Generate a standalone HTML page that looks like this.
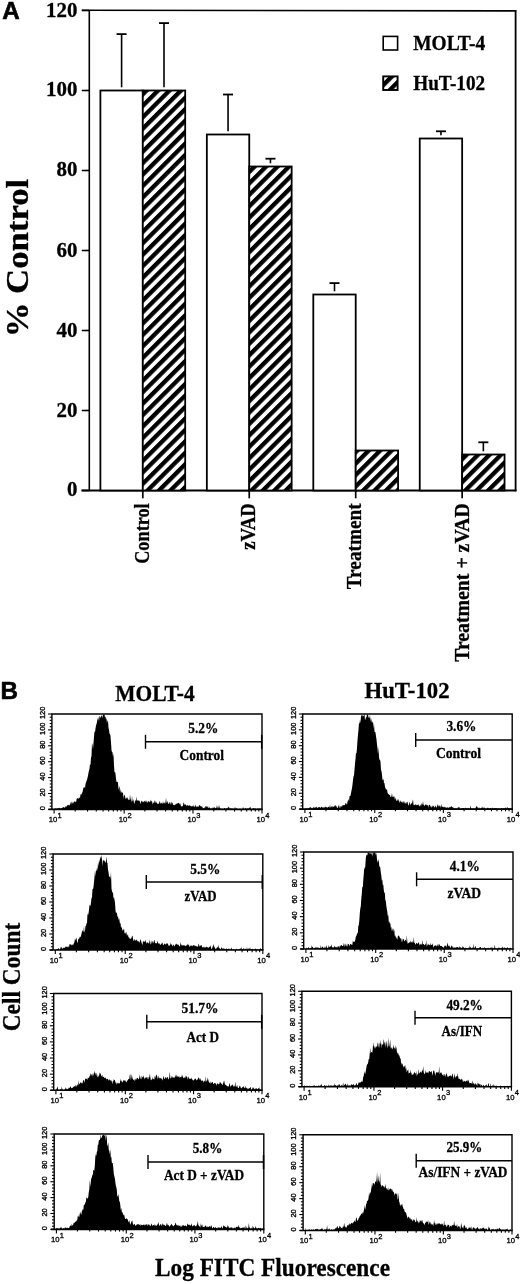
<!DOCTYPE html>
<html><head><meta charset="utf-8"><title>Figure</title>
<style>html,body{margin:0;padding:0;background:#fff;}body{width:520px;height:1284px;overflow:hidden;font-family:"Liberation Serif",serif;}
svg{display:block;filter:grayscale(1);}</style></head>
<body><svg width="520" height="1284" viewBox="0 0 520 1284">
<rect x="0" y="0" width="520" height="1284" fill="#fff"/>
<defs><pattern id="hatch0" patternUnits="userSpaceOnUse" width="8.1" height="8.1" patternTransform="translate(4.95,0) rotate(-45)"><rect x="0" y="0" width="8.1" height="8.1" fill="#fff"/><rect x="0" y="0" width="8.1" height="4.3" fill="#000"/></pattern><pattern id="hatch1" patternUnits="userSpaceOnUse" width="8.1" height="8.1" patternTransform="translate(5.75,0) rotate(-45)"><rect x="0" y="0" width="8.1" height="8.1" fill="#fff"/><rect x="0" y="0" width="8.1" height="4.3" fill="#000"/></pattern><pattern id="hatch2" patternUnits="userSpaceOnUse" width="8.1" height="8.1" patternTransform="translate(2.9,0) rotate(-45)"><rect x="0" y="0" width="8.1" height="8.1" fill="#fff"/><rect x="0" y="0" width="8.1" height="4.3" fill="#000"/></pattern><pattern id="hatch3" patternUnits="userSpaceOnUse" width="8.1" height="8.1" patternTransform="translate(1.9,0) rotate(-45)"><rect x="0" y="0" width="8.1" height="8.1" fill="#fff"/><rect x="0" y="0" width="8.1" height="4.3" fill="#000"/></pattern><pattern id="hatch4" patternUnits="userSpaceOnUse" width="8.1" height="8.1" patternTransform="translate(7.1,0) rotate(-45)"><rect x="0" y="0" width="8.1" height="8.1" fill="#fff"/><rect x="0" y="0" width="8.1" height="4.3" fill="#000"/></pattern></defs>
<line x1="81.8" y1="10.3" x2="516.35" y2="10.9" stroke="#000" stroke-width="1.6"/>
<line x1="89.3" y1="10.3" x2="89.3" y2="490.5" stroke="#000" stroke-width="1.6"/>
<line x1="515.6" y1="10.3" x2="515.6" y2="491.2" stroke="#000" stroke-width="1.8"/>
<line x1="81.5" y1="490.6" x2="516.5" y2="490.6" stroke="#000" stroke-width="2"/>
<line x1="81.8" y1="490.5" x2="89.3" y2="490.5" stroke="#000" stroke-width="1.6"/>
<text x="77.4" y="495.6" font-size="20.5" font-family="'Liberation Serif', serif" font-weight="bold" text-anchor="end" textLength="10.45" lengthAdjust="spacingAndGlyphs" stroke="#000" stroke-width="0.3">0</text>
<line x1="81.8" y1="410.5" x2="89.3" y2="410.5" stroke="#000" stroke-width="1.6"/>
<text x="77.4" y="416.8" font-size="20.5" font-family="'Liberation Serif', serif" font-weight="bold" text-anchor="end" textLength="20.9" lengthAdjust="spacingAndGlyphs" stroke="#000" stroke-width="0.3">20</text>
<line x1="81.8" y1="330.5" x2="89.3" y2="330.5" stroke="#000" stroke-width="1.6"/>
<text x="77.4" y="337.3" font-size="20.5" font-family="'Liberation Serif', serif" font-weight="bold" text-anchor="end" textLength="20.9" lengthAdjust="spacingAndGlyphs" stroke="#000" stroke-width="0.3">40</text>
<line x1="81.8" y1="250.5" x2="89.3" y2="250.5" stroke="#000" stroke-width="1.6"/>
<text x="77.4" y="257" font-size="20.5" font-family="'Liberation Serif', serif" font-weight="bold" text-anchor="end" textLength="20.9" lengthAdjust="spacingAndGlyphs" stroke="#000" stroke-width="0.3">60</text>
<line x1="81.8" y1="170.5" x2="89.3" y2="170.5" stroke="#000" stroke-width="1.6"/>
<text x="77.4" y="175.7" font-size="20.5" font-family="'Liberation Serif', serif" font-weight="bold" text-anchor="end" textLength="20.9" lengthAdjust="spacingAndGlyphs" stroke="#000" stroke-width="0.3">80</text>
<line x1="81.8" y1="90.5" x2="89.3" y2="90.5" stroke="#000" stroke-width="1.6"/>
<text x="77.4" y="96.2" font-size="20.5" font-family="'Liberation Serif', serif" font-weight="bold" text-anchor="end" textLength="31.35" lengthAdjust="spacingAndGlyphs" stroke="#000" stroke-width="0.3">100</text>
<line x1="81.8" y1="10.5" x2="89.3" y2="10.5" stroke="#000" stroke-width="1.6"/>
<text x="77.4" y="16.6" font-size="20.5" font-family="'Liberation Serif', serif" font-weight="bold" text-anchor="end" textLength="31.35" lengthAdjust="spacingAndGlyphs" stroke="#000" stroke-width="0.3">120</text>
<rect x="100.4" y="90.5" width="42.4" height="400" fill="#fff" stroke="#000" stroke-width="1.8"/>
<rect x="142.8" y="90.5" width="42.4" height="400" fill="url(#hatch0)" stroke="#000" stroke-width="1.8"/>
<line x1="121.6" y1="87.3" x2="121.6" y2="34.1" stroke="#000" stroke-width="1.6"/>
<line x1="116.6" y1="34.1" x2="126.6" y2="34.1" stroke="#000" stroke-width="1.8"/>
<line x1="164" y1="87.3" x2="164" y2="23.1" stroke="#000" stroke-width="1.6"/>
<line x1="159" y1="23.1" x2="169" y2="23.1" stroke="#000" stroke-width="1.8"/>
<line x1="142.8" y1="490.5" x2="142.8" y2="498.3" stroke="#000" stroke-width="1.7"/>
<rect x="206.85" y="134.5" width="42.4" height="356" fill="#fff" stroke="#000" stroke-width="1.8"/>
<rect x="249.25" y="166.5" width="42.4" height="324" fill="url(#hatch1)" stroke="#000" stroke-width="1.8"/>
<line x1="228.05" y1="131.3" x2="228.05" y2="94.5" stroke="#000" stroke-width="1.6"/>
<line x1="223.05" y1="94.5" x2="233.05" y2="94.5" stroke="#000" stroke-width="1.8"/>
<line x1="270.45" y1="163.3" x2="270.45" y2="158.7" stroke="#000" stroke-width="1.6"/>
<line x1="265.45" y1="158.7" x2="275.45" y2="158.7" stroke="#000" stroke-width="1.8"/>
<line x1="249.25" y1="490.5" x2="249.25" y2="498.3" stroke="#000" stroke-width="1.7"/>
<rect x="313.3" y="294.5" width="42.4" height="196" fill="#fff" stroke="#000" stroke-width="1.8"/>
<rect x="355.7" y="450.5" width="42.4" height="40" fill="url(#hatch2)" stroke="#000" stroke-width="1.8"/>
<line x1="334.5" y1="291.3" x2="334.5" y2="283.1" stroke="#000" stroke-width="1.6"/>
<line x1="329.5" y1="283.1" x2="339.5" y2="283.1" stroke="#000" stroke-width="1.8"/>
<line x1="355.7" y1="490.5" x2="355.7" y2="498.3" stroke="#000" stroke-width="1.7"/>
<rect x="419.75" y="138.5" width="42.4" height="352" fill="#fff" stroke="#000" stroke-width="1.8"/>
<rect x="462.15" y="454.5" width="42.4" height="36" fill="url(#hatch3)" stroke="#000" stroke-width="1.8"/>
<line x1="440.95" y1="135.3" x2="440.95" y2="131.3" stroke="#000" stroke-width="1.6"/>
<line x1="435.95" y1="131.3" x2="445.95" y2="131.3" stroke="#000" stroke-width="1.8"/>
<line x1="483.35" y1="451.3" x2="483.35" y2="442.3" stroke="#000" stroke-width="1.6"/>
<line x1="478.35" y1="442.3" x2="488.35" y2="442.3" stroke="#000" stroke-width="1.8"/>
<line x1="462.15" y1="490.5" x2="462.15" y2="498.3" stroke="#000" stroke-width="1.7"/>
<rect x="383.2" y="36.4" width="14.4" height="13.6" fill="#fff" stroke="#000" stroke-width="1.6"/>
<rect x="383.2" y="76.4" width="14.4" height="13.6" fill="url(#hatch4)" stroke="#000" stroke-width="1.9"/>
<text x="413.2" y="49.8" font-size="22" font-family="'Liberation Serif', serif" font-weight="bold" text-anchor="start" textLength="72" lengthAdjust="spacingAndGlyphs" stroke="#000" stroke-width="0.3">MOLT-4</text>
<text x="413.2" y="89.6" font-size="22" font-family="'Liberation Serif', serif" font-weight="bold" text-anchor="start" textLength="72" lengthAdjust="spacingAndGlyphs" stroke="#000" stroke-width="0.3">HuT-102</text>
<text x="2.3" y="19" font-size="24.2" font-family="'Liberation Sans', sans-serif" font-weight="bold" text-anchor="start" stroke="#000" stroke-width="0.6">A</text>
<text x="27.7" y="337.3" font-size="31" font-family="'Liberation Serif', serif" font-weight="bold" text-anchor="start" textLength="158.5" lengthAdjust="spacingAndGlyphs" transform="rotate(-90 27.7 337.3)" stroke="#000" stroke-width="0.3">% Control</text>
<text x="148.8" y="503.3" font-size="20.8" font-family="'Liberation Serif', serif" font-weight="bold" text-anchor="end" textLength="60.5" lengthAdjust="spacingAndGlyphs" transform="rotate(-90 148.8 503.3)" stroke="#000" stroke-width="0.3">Control</text>
<text x="255" y="503.3" font-size="20.8" font-family="'Liberation Serif', serif" font-weight="bold" text-anchor="end" textLength="46.5" lengthAdjust="spacingAndGlyphs" transform="rotate(-90 255 503.3)" stroke="#000" stroke-width="0.3">zVAD</text>
<text x="361.3" y="503.3" font-size="20.8" font-family="'Liberation Serif', serif" font-weight="bold" text-anchor="end" textLength="86" lengthAdjust="spacingAndGlyphs" transform="rotate(-90 361.3 503.3)" stroke="#000" stroke-width="0.3">Treatment</text>
<text x="468.7" y="503.3" font-size="20.8" font-family="'Liberation Serif', serif" font-weight="bold" text-anchor="end" textLength="158.5" lengthAdjust="spacingAndGlyphs" transform="rotate(-90 468.7 503.3)" stroke="#000" stroke-width="0.3">Treatment + zVAD</text>
<text x="0.4" y="698.6" font-size="24.2" font-family="'Liberation Sans', sans-serif" font-weight="bold" text-anchor="start" stroke="#000" stroke-width="0.6">B</text>
<text x="115.2" y="700.8" font-size="23" font-family="'Liberation Serif', serif" font-weight="bold" text-anchor="start" textLength="79.5" lengthAdjust="spacingAndGlyphs" stroke="#000" stroke-width="0.3">MOLT-4</text>
<text x="364.5" y="698" font-size="22.6" font-family="'Liberation Serif', serif" font-weight="bold" text-anchor="start" textLength="85" lengthAdjust="spacingAndGlyphs" stroke="#000" stroke-width="0.3">HuT-102</text>
<text x="19.8" y="1031.3" font-size="25.5" font-family="'Liberation Serif', serif" font-weight="bold" text-anchor="start" textLength="108.5" lengthAdjust="spacingAndGlyphs" transform="rotate(-90 19.8 1031.3)" stroke="#000" stroke-width="0.3">Cell Count</text>
<text x="155" y="1275.8" font-size="24.5" font-family="'Liberation Serif', serif" font-weight="bold" text-anchor="start" textLength="235" lengthAdjust="spacingAndGlyphs" stroke="#000" stroke-width="0.3">Log FITC Fluorescence</text>
<path d="M54,809.4L54,809.1L54.5,809.1L55,808.12L55.5,808.54L56,808.67L56.5,808.59L57,808.44L57.5,808.32L58,808.52L58.5,808.12L59,808.57L59.5,807.82L60,808.06L60.5,808.8L61,808.11L61.5,808.43L62,807.86L62.5,807.8L63,807.19L63.5,806.88L64,807.59L64.5,807.53L65,807.66L65.5,806.42L66,806.06L66.5,807.29L67,805.04L67.5,805.86L68,804.57L68.5,805.42L69,804.72L69.5,805.84L70,804.27L70.5,801.73L71,805.1L71.5,802.6L72,801.22L72.5,803.23L73,803.72L73.5,802.44L74,801.48L74.5,801.48L75,801.82L75.5,801.41L76,802.43L76.5,799.69L77,798.11L77.5,798.47L78,798.35L78.5,798.96L79,797.17L79.5,797.78L80,798.01L80.5,794.53L81,793.98L81.5,794.76L82,792.68L82.5,792.42L83,789.41L83.5,787.73L84,786.95L84.5,787.36L85,788.21L85.5,784.09L86,782.39L86.5,780.89L87,779.63L87.5,777.8L88,775.67L88.5,772.63L89,770.62L89.5,768.6L90,764.03L90.5,765.14L91,757.6L91.5,756.33L92,743.07L92.5,744.87L93,749.27L93.5,742.95L94,736.63L94.5,731.2L95,732.22L95.5,728.59L96,725.55L96.5,724.11L97,721.98L97.5,717.85L98,720.57L98.5,716.58L99,721.42L99.5,715.83L100,716.7L100.5,717.95L101,716.24L101.5,716.34L102,714.6L102.5,718.66L103,714.6L103.5,714.6L104,714.6L104.5,714.6L105,717.24L105.5,716.43L106,719.83L106.5,718.07L107,723.47L107.5,720.51L108,720.84L108.5,727.8L109,730.05L109.5,733.81L110,733.97L110.5,736.31L111,742.48L111.5,750.23L112,752L112.5,752.26L113,756.81L113.5,753.59L114,765.53L114.5,772.85L115,771.52L115.5,773.79L116,779.09L116.5,781.63L117,782.25L117.5,781.64L118,782.51L118.5,789.8L119,787.54L119.5,786.07L120,792.61L120.5,788.55L121,793.88L121.5,791.05L122,792.59L122.5,792.77L123,792.57L123.5,798.76L124,795.24L124.5,794.79L125,796.32L125.5,798.46L126,799.06L126.5,797.98L127,797.18L127.5,797.84L128,799.36L128.5,799.71L129,799.71L129.5,800.03L130,794.27L130.5,798.41L131,799.97L131.5,802.46L132,795.43L132.5,800.59L133,801.44L133.5,798.86L134,803.49L134.5,803.62L135,800.82L135.5,799.9L136,801.45L136.5,796.19L137,801.16L137.5,799.77L138,801.08L138.5,799.94L139,801.28L139.5,800.34L140,802.19L140.5,804.19L141,801.34L141.5,800.39L142,802.19L142.5,800.86L143,802.78L143.5,801.31L144,802.36L144.5,800.42L145,801.43L145.5,801.69L146,800.12L146.5,802.53L147,800.5L147.5,802.92L148,801.9L148.5,800.88L149,801.29L149.5,801.92L150,802.32L150.5,799.54L151,801.82L151.5,801.13L152,800.34L152.5,804.72L153,802.86L153.5,802.17L154,803.47L154.5,800.98L155,800.37L155.5,803.27L156,801.09L156.5,802.69L157,803.33L157.5,803.98L158,803.57L158.5,803.86L159,803.79L159.5,801.12L160,802.09L160.5,803.18L161,803.95L161.5,802.64L162,802.73L162.5,804.15L163,800.89L163.5,804.02L164,802.11L164.5,803.1L165,803.8L165.5,802.27L166,797.83L166.5,802.24L167,803.37L167.5,800.8L168,802.51L168.5,803.89L169,804.05L169.5,802.34L170,802.12L170.5,803.49L171,805.11L171.5,801.2L172,803.32L172.5,802.52L173,804.65L173.5,804.78L174,805.36L174.5,805.26L175,804.33L175.5,805.03L176,803.39L176.5,804.16L177,803.23L177.5,803.46L178,803.27L178.5,802.88L179,802.71L179.5,804.58L180,803.01L180.5,804.41L181,806.25L181.5,806.14L182,806.59L182.5,806.34L183,805.61L183.5,802.2L184,802.93L184.5,804.86L185,804.84L185.5,804.21L186,804.86L186.5,806.13L187,804.76L187.5,805.5L188,805.18L188.5,805.99L189,805.26L189.5,805.34L190,805.7L190.5,805.72L191,806.59L191.5,806.34L192,806.05L192.5,805.86L193,807.06L193.5,804.58L194,807.38L194.5,806.44L195,805.99L195.5,804.27L196,807.52L196.5,806.79L197,806.11L197.5,806.52L198,807.12L198.5,806.67L199,805.58L199.5,804.89L200,805.41L200.5,806.25L201,806.23L201.5,806.72L202,806.31L202.5,807.28L203,808.72L203.5,807.84L204,808.64L204.5,806.89L205,808.26L205.5,806.22L206,805.91L206.5,806.57L207,807.54L207.5,805.86L208,807.97L208.5,808.21L209,805.98L209.5,808.29L210,807.44L210.5,809.1L211,808.48L211.5,808.85L212,807.55L212.5,809.1L213,806.61L213.5,808.13L214,807.83L214.5,807.11L215,807.98L215.5,808.19L216,808.29L216.5,807.51L217,804.64L217.5,809.1L218,806.02L218.5,809.1L219,804.5L219.5,807.45L220,807.68L220.5,808.51L221,808.65L221.5,808.77L222,808.74L222.5,808.51L223,808.93L223.5,809.02L224,808.26L224.5,808.03L225,808.34L225.5,808.93L226,808.35L226.5,808.02L227,809.06L227.5,807.84L228,807.8L228.5,806.92L229,806.62L229.5,808.94L230,807.84L230.5,808.19L231,809.05L231.5,808.36L232,808.56L232.5,808.54L233,808.87L233.5,809.1L234,808.1L234.5,809.1L235,806.44L235.5,808.48L236,808.87L236.5,807.73L237,809.1L237.5,808.47L238,809.1L238.5,809.1L239,809.1L239.5,809.09L240,807.98L240.5,809.1L241,809.1L241.5,809.09L242,808.98L242.5,808.87L243,806.93L243.5,807.97L244,809.1L244.5,809.1L245,808.29L245.5,807.8L246,809.02L246.5,809.08L247,807.8L247.5,808.57L248,809.1L248.5,808.06L249,808.57L249.5,807.24L250,807.99L250.5,806.55L251,809.1L251.5,809.1L252,809.1L252.5,808.73L253,807.97L253.5,808.51L254,807.97L254.5,809.1L255,807.97L255.5,808.61L256,809.1L256.5,809.1L257,808.34L257.5,808.46L258,809.1L258.5,808.31L259,809.06L259.5,808.31L260,807.98L260.5,809.1L261,808.58L261,809.4 Z" fill="#000"/>
<path d="M51.9,809.4 L51.9,714 L262,714 L262,809.4" fill="none" stroke="#000" stroke-width="1.4"/>
<line x1="48.5" y1="809.4" x2="262.7" y2="809.4" stroke="#000" stroke-width="1.6"/>
<line x1="48.1" y1="809.4" x2="51.9" y2="809.4" stroke="#000" stroke-width="1.1"/>
<line x1="49.7" y1="806.22" x2="51.9" y2="806.22" stroke="#000" stroke-width="1.1"/>
<line x1="49.7" y1="803.04" x2="51.9" y2="803.04" stroke="#000" stroke-width="1.1"/>
<line x1="49.7" y1="799.86" x2="51.9" y2="799.86" stroke="#000" stroke-width="1.1"/>
<line x1="49.7" y1="796.68" x2="51.9" y2="796.68" stroke="#000" stroke-width="1.1"/>
<line x1="48.1" y1="793.5" x2="51.9" y2="793.5" stroke="#000" stroke-width="1.1"/>
<line x1="49.7" y1="790.32" x2="51.9" y2="790.32" stroke="#000" stroke-width="1.1"/>
<line x1="49.7" y1="787.14" x2="51.9" y2="787.14" stroke="#000" stroke-width="1.1"/>
<line x1="49.7" y1="783.96" x2="51.9" y2="783.96" stroke="#000" stroke-width="1.1"/>
<line x1="49.7" y1="780.78" x2="51.9" y2="780.78" stroke="#000" stroke-width="1.1"/>
<line x1="48.1" y1="777.6" x2="51.9" y2="777.6" stroke="#000" stroke-width="1.1"/>
<line x1="49.7" y1="774.42" x2="51.9" y2="774.42" stroke="#000" stroke-width="1.1"/>
<line x1="49.7" y1="771.24" x2="51.9" y2="771.24" stroke="#000" stroke-width="1.1"/>
<line x1="49.7" y1="768.06" x2="51.9" y2="768.06" stroke="#000" stroke-width="1.1"/>
<line x1="49.7" y1="764.88" x2="51.9" y2="764.88" stroke="#000" stroke-width="1.1"/>
<line x1="48.1" y1="761.7" x2="51.9" y2="761.7" stroke="#000" stroke-width="1.1"/>
<line x1="49.7" y1="758.52" x2="51.9" y2="758.52" stroke="#000" stroke-width="1.1"/>
<line x1="49.7" y1="755.34" x2="51.9" y2="755.34" stroke="#000" stroke-width="1.1"/>
<line x1="49.7" y1="752.16" x2="51.9" y2="752.16" stroke="#000" stroke-width="1.1"/>
<line x1="49.7" y1="748.98" x2="51.9" y2="748.98" stroke="#000" stroke-width="1.1"/>
<line x1="48.1" y1="745.8" x2="51.9" y2="745.8" stroke="#000" stroke-width="1.1"/>
<line x1="49.7" y1="742.62" x2="51.9" y2="742.62" stroke="#000" stroke-width="1.1"/>
<line x1="49.7" y1="739.44" x2="51.9" y2="739.44" stroke="#000" stroke-width="1.1"/>
<line x1="49.7" y1="736.26" x2="51.9" y2="736.26" stroke="#000" stroke-width="1.1"/>
<line x1="49.7" y1="733.08" x2="51.9" y2="733.08" stroke="#000" stroke-width="1.1"/>
<line x1="48.1" y1="729.9" x2="51.9" y2="729.9" stroke="#000" stroke-width="1.1"/>
<line x1="49.7" y1="726.72" x2="51.9" y2="726.72" stroke="#000" stroke-width="1.1"/>
<line x1="49.7" y1="723.54" x2="51.9" y2="723.54" stroke="#000" stroke-width="1.1"/>
<line x1="49.7" y1="720.36" x2="51.9" y2="720.36" stroke="#000" stroke-width="1.1"/>
<line x1="49.7" y1="717.18" x2="51.9" y2="717.18" stroke="#000" stroke-width="1.1"/>
<line x1="48.1" y1="714" x2="51.9" y2="714" stroke="#000" stroke-width="1.1"/>
<text x="44.8" y="808.3" font-size="7.4" font-family="'Liberation Sans', sans-serif" font-weight="normal" text-anchor="middle" transform="rotate(-90 44.8 808.3)" stroke="#000" stroke-width="0.35">0</text>
<text x="44.8" y="792.4" font-size="7.4" font-family="'Liberation Sans', sans-serif" font-weight="normal" text-anchor="middle" transform="rotate(-90 44.8 792.4)" stroke="#000" stroke-width="0.35">20</text>
<text x="44.8" y="776.5" font-size="7.4" font-family="'Liberation Sans', sans-serif" font-weight="normal" text-anchor="middle" transform="rotate(-90 44.8 776.5)" stroke="#000" stroke-width="0.35">40</text>
<text x="44.8" y="760.6" font-size="7.4" font-family="'Liberation Sans', sans-serif" font-weight="normal" text-anchor="middle" transform="rotate(-90 44.8 760.6)" stroke="#000" stroke-width="0.35">60</text>
<text x="44.8" y="744.7" font-size="7.4" font-family="'Liberation Sans', sans-serif" font-weight="normal" text-anchor="middle" transform="rotate(-90 44.8 744.7)" stroke="#000" stroke-width="0.35">80</text>
<text x="44.8" y="728.8" font-size="7.4" font-family="'Liberation Sans', sans-serif" font-weight="normal" text-anchor="middle" transform="rotate(-90 44.8 728.8)" stroke="#000" stroke-width="0.35">100</text>
<text x="44.8" y="712.9" font-size="7.4" font-family="'Liberation Sans', sans-serif" font-weight="normal" text-anchor="middle" transform="rotate(-90 44.8 712.9)" stroke="#000" stroke-width="0.35">120</text>
<line x1="54.1" y1="809.4" x2="54.1" y2="813.4" stroke="#000" stroke-width="1.1"/>
<line x1="75.19" y1="809.4" x2="75.19" y2="811.6" stroke="#000" stroke-width="1.1"/>
<line x1="87.53" y1="809.4" x2="87.53" y2="811.6" stroke="#000" stroke-width="1.1"/>
<line x1="96.28" y1="809.4" x2="96.28" y2="811.6" stroke="#000" stroke-width="1.1"/>
<line x1="103.07" y1="809.4" x2="103.07" y2="811.6" stroke="#000" stroke-width="1.1"/>
<line x1="108.62" y1="809.4" x2="108.62" y2="811.6" stroke="#000" stroke-width="1.1"/>
<line x1="113.31" y1="809.4" x2="113.31" y2="811.6" stroke="#000" stroke-width="1.1"/>
<line x1="117.37" y1="809.4" x2="117.37" y2="811.6" stroke="#000" stroke-width="1.1"/>
<line x1="120.96" y1="809.4" x2="120.96" y2="811.6" stroke="#000" stroke-width="1.1"/>
<line x1="124.16" y1="809.4" x2="124.16" y2="813.4" stroke="#000" stroke-width="1.1"/>
<line x1="144.88" y1="809.4" x2="144.88" y2="811.6" stroke="#000" stroke-width="1.1"/>
<line x1="157" y1="809.4" x2="157" y2="811.6" stroke="#000" stroke-width="1.1"/>
<line x1="165.59" y1="809.4" x2="165.59" y2="811.6" stroke="#000" stroke-width="1.1"/>
<line x1="172.26" y1="809.4" x2="172.26" y2="811.6" stroke="#000" stroke-width="1.1"/>
<line x1="177.71" y1="809.4" x2="177.71" y2="811.6" stroke="#000" stroke-width="1.1"/>
<line x1="182.32" y1="809.4" x2="182.32" y2="811.6" stroke="#000" stroke-width="1.1"/>
<line x1="186.31" y1="809.4" x2="186.31" y2="811.6" stroke="#000" stroke-width="1.1"/>
<line x1="189.83" y1="809.4" x2="189.83" y2="811.6" stroke="#000" stroke-width="1.1"/>
<line x1="192.98" y1="809.4" x2="192.98" y2="813.4" stroke="#000" stroke-width="1.1"/>
<line x1="213.76" y1="809.4" x2="213.76" y2="811.6" stroke="#000" stroke-width="1.1"/>
<line x1="225.91" y1="809.4" x2="225.91" y2="811.6" stroke="#000" stroke-width="1.1"/>
<line x1="234.53" y1="809.4" x2="234.53" y2="811.6" stroke="#000" stroke-width="1.1"/>
<line x1="241.22" y1="809.4" x2="241.22" y2="811.6" stroke="#000" stroke-width="1.1"/>
<line x1="246.69" y1="809.4" x2="246.69" y2="811.6" stroke="#000" stroke-width="1.1"/>
<line x1="251.31" y1="809.4" x2="251.31" y2="811.6" stroke="#000" stroke-width="1.1"/>
<line x1="255.31" y1="809.4" x2="255.31" y2="811.6" stroke="#000" stroke-width="1.1"/>
<line x1="258.84" y1="809.4" x2="258.84" y2="811.6" stroke="#000" stroke-width="1.1"/>
<line x1="262" y1="809.4" x2="262" y2="813.4" stroke="#000" stroke-width="1.1"/>
<text x="55.1" y="822.2" font-size="7.7" font-family="'Liberation Sans', sans-serif" text-anchor="middle" stroke="#000" stroke-width="0.3">10<tspan font-size="7.5" dx="0.2" dy="-4.7">1</tspan></text>
<text x="125.16" y="822.2" font-size="7.7" font-family="'Liberation Sans', sans-serif" text-anchor="middle" stroke="#000" stroke-width="0.3">10<tspan font-size="7.5" dx="0.2" dy="-4.7">2</tspan></text>
<text x="193.98" y="822.2" font-size="7.7" font-family="'Liberation Sans', sans-serif" text-anchor="middle" stroke="#000" stroke-width="0.3">10<tspan font-size="7.5" dx="0.2" dy="-4.7">3</tspan></text>
<text x="263" y="822.2" font-size="7.7" font-family="'Liberation Sans', sans-serif" text-anchor="middle" stroke="#000" stroke-width="0.3">10<tspan font-size="7.5" dx="0.2" dy="-4.7">4</tspan></text>
<line x1="145.5" y1="741.8" x2="262" y2="741.8" stroke="#000" stroke-width="1.4"/>
<line x1="145.5" y1="734.8" x2="145.5" y2="748.8" stroke="#000" stroke-width="1.4"/>
<line x1="261.7" y1="734.8" x2="261.7" y2="748.8" stroke="#000" stroke-width="1.5"/>
<text x="188.2" y="732.8" font-size="15.2" font-family="'Liberation Serif', serif" font-weight="bold" text-anchor="start" textLength="30.1" lengthAdjust="spacingAndGlyphs" stroke="#000" stroke-width="0.3">5.2%</text>
<text x="179.6" y="759.7" font-size="15.2" font-family="'Liberation Serif', serif" font-weight="bold" text-anchor="start" textLength="44.4" lengthAdjust="spacingAndGlyphs" stroke="#000" stroke-width="0.3">Control</text>
<path d="M304.5,809.1L304.5,808.8L305,808.8L305.5,808.8L306,807.94L306.5,808.8L307,808.62L307.5,808.76L308,808.8L308.5,808.26L309,807.65L309.5,807.42L310,808.03L310.5,807.1L311,807.32L311.5,808.23L312,808.8L312.5,808.8L313,807.27L313.5,807.87L314,806.6L314.5,808.04L315,807.74L315.5,806.93L316,807.85L316.5,806.41L317,807.52L317.5,808.32L318,807.31L318.5,807.48L319,806.8L319.5,807.37L320,807.16L320.5,808.05L321,807.29L321.5,806.6L322,807.34L322.5,807.26L323,807.88L323.5,807.27L324,807.16L324.5,807.73L325,806.39L325.5,806.78L326,807.45L326.5,807.02L327,807.2L327.5,807.71L328,807.2L328.5,806.63L329,806.79L329.5,807.84L330,804.18L330.5,807.51L331,807.21L331.5,805.83L332,807.85L332.5,806.6L333,805.71L333.5,807.09L334,806.91L334.5,805.23L335,806.7L335.5,804.63L336,805.94L336.5,806.37L337,807.86L337.5,808.4L338,806.72L338.5,806.23L339,804.61L339.5,807.17L340,808.46L340.5,806.55L341,805.85L341.5,806.51L342,806.78L342.5,805.01L343,805.54L343.5,805.06L344,805.27L344.5,805.22L345,804.78L345.5,802.98L346,803.32L346.5,803.7L347,805.08L347.5,801.71L348,800.17L348.5,799.1L349,801.71L349.5,796.17L350,796.05L350.5,795.76L351,792.94L351.5,790.54L352,788.31L352.5,784.51L353,779.88L353.5,776.47L354,775.24L354.5,769.77L355,763.74L355.5,758.93L356,752.57L356.5,753.56L357,747.64L357.5,740.17L358,734.48L358.5,729.39L359,723L359.5,723.83L360,719.42L360.5,723.25L361,715.98L361.5,714.62L362,717.03L362.5,714.6L363,716.54L363.5,715.96L364,714.6L364.5,714.6L365,720.35L365.5,718.95L366,717.37L366.5,717.2L367,714.6L367.5,714.6L368,714.6L368.5,717.61L369,717.45L369.5,717.94L370,714.6L370.5,721.74L371,718.09L371.5,720.62L372,723.03L372.5,722.36L373,721.3L373.5,728.76L374,723.35L374.5,731.84L375,731.76L375.5,732.53L376,736.27L376.5,739.56L377,744.41L377.5,748.01L378,754.04L378.5,746.63L379,757.13L379.5,759.94L380,759.61L380.5,761.71L381,769.95L381.5,771.34L382,774.68L382.5,779.71L383,780.13L383.5,778.4L384,783.14L384.5,782.9L385,787.04L385.5,788.28L386,789.45L386.5,789.41L387,789.23L387.5,792.82L388,793.41L388.5,794.26L389,794.42L389.5,795.37L390,794.77L390.5,797.11L391,797.29L391.5,796.05L392,792.85L392.5,797.36L393,796.68L393.5,797.08L394,795.41L394.5,797.46L395,799.89L395.5,797.59L396,799.31L396.5,800.94L397,800.72L397.5,800.27L398,798.41L398.5,800.17L399,801.16L399.5,803.15L400,800.12L400.5,801.26L401,801.72L401.5,802.4L402,800.74L402.5,803.24L403,801.53L403.5,801.3L404,803.86L404.5,801.01L405,803.91L405.5,802.31L406,804.27L406.5,802.43L407,801.85L407.5,801.9L408,804.18L408.5,805.7L409,804.31L409.5,801.42L410,803.82L410.5,805.57L411,803.21L411.5,803.27L412,803.87L412.5,801.18L413,799.35L413.5,804.78L414,805.13L414.5,804.73L415,805.56L415.5,804.24L416,804.19L416.5,805.23L417,805.15L417.5,805.08L418,804.54L418.5,804.17L419,806.28L419.5,806.22L420,805.34L420.5,804.58L421,806.74L421.5,803.08L422,804.44L422.5,804.44L423,800.88L423.5,804.78L424,805.36L424.5,806.27L425,804.8L425.5,804.67L426,804.31L426.5,804.71L427,805.51L427.5,805.45L428,804.5L428.5,807.8L429,805.1L429.5,804.87L430,805.22L430.5,806.22L431,807.13L431.5,807.59L432,805.2L432.5,806.17L433,807L433.5,805.58L434,806.19L434.5,807.39L435,807.22L435.5,805.41L436,806.27L436.5,808.04L437,806.66L437.5,804.63L438,804.48L438.5,806.36L439,806.84L439.5,805.38L440,805.47L440.5,806.43L441,807.93L441.5,803.71L442,806.77L442.5,806.59L443,807.34L443.5,807.17L444,806.79L444.5,806.68L445,807.75L445.5,807.34L446,807.2L446.5,807.96L447,807.41L447.5,806.94L448,808.14L448.5,807.96L449,806.73L449.5,807.03L450,807.91L450.5,806.61L451,807.07L451.5,805.69L452,807.15L452.5,807.13L453,807.25L453.5,807.79L454,808.5L454.5,808.8L455,808.16L455.5,808.74L456,807.93L456.5,808.8L457,808.8L457.5,808.8L458,806.61L458.5,807.77L459,807.19L459.5,807.25L460,808.8L460.5,808.8L461,808.8L461.5,808.51L462,807.86L462.5,808.59L463,808.25L463.5,808.12L464,807.98L464.5,808.8L465,808.77L465.5,807.53L466,808.06L466.5,807.97L467,808.8L467.5,808.8L468,807.85L468.5,808.03L469,808.8L469.5,808.8L470,808.8L470.5,805.34L471,808.25L471.5,808.47L472,808.8L472.5,808.8L473,808.8L473.5,808.52L474,808.39L474.5,808.42L475,808.8L475.5,808.47L476,806.83L476.5,805.7L477,807.44L477.5,806.44L478,808.8L478.5,808.8L479,806.67L479.5,808.8L480,808.8L480.5,808.47L481,808.13L481.5,808.8L482,806.12L482.5,808.34L483,807.18L483.5,808.66L484,806.68L484.5,807.91L485,808.48L485.5,808.8L486,808.8L486.5,808.8L487,808.68L487.5,807.32L488,808.8L488.5,807.7L489,808.68L489.5,808.79L490,808.2L490.5,808.03L491,807.98L491.5,808.73L492,808.71L492.5,807.23L493,808.8L493.5,808.8L494,807.99L494.5,808.37L495,808.53L495.5,808.13L496,808.23L496.5,807.99L497,808.8L497.5,808.55L498,808.8L498.5,808.25L499,808.8L499.5,808.8L500,808.8L500.5,808.62L501,808.8L501.5,807.84L502,808.41L502.5,808.8L503,808.19L503.5,808.8L504,807.7L504.5,808.8L505,808.21L505.5,807.85L506,807.22L506.5,808.41L507,808.79L507.5,806.76L508,807.95L508.5,808.3L509,808.35L509.5,808.66L510,807.76L510.5,808.31L511,808.8L511,809.1 Z" fill="#000"/>
<path d="M302.7,809.1 L302.7,714 L512.2,714 L512.2,809.1" fill="none" stroke="#000" stroke-width="1.4"/>
<line x1="299.3" y1="809.1" x2="512.9" y2="809.1" stroke="#000" stroke-width="1.6"/>
<line x1="298.9" y1="809.1" x2="302.7" y2="809.1" stroke="#000" stroke-width="1.1"/>
<line x1="300.5" y1="805.93" x2="302.7" y2="805.93" stroke="#000" stroke-width="1.1"/>
<line x1="300.5" y1="802.76" x2="302.7" y2="802.76" stroke="#000" stroke-width="1.1"/>
<line x1="300.5" y1="799.59" x2="302.7" y2="799.59" stroke="#000" stroke-width="1.1"/>
<line x1="300.5" y1="796.42" x2="302.7" y2="796.42" stroke="#000" stroke-width="1.1"/>
<line x1="298.9" y1="793.25" x2="302.7" y2="793.25" stroke="#000" stroke-width="1.1"/>
<line x1="300.5" y1="790.08" x2="302.7" y2="790.08" stroke="#000" stroke-width="1.1"/>
<line x1="300.5" y1="786.91" x2="302.7" y2="786.91" stroke="#000" stroke-width="1.1"/>
<line x1="300.5" y1="783.74" x2="302.7" y2="783.74" stroke="#000" stroke-width="1.1"/>
<line x1="300.5" y1="780.57" x2="302.7" y2="780.57" stroke="#000" stroke-width="1.1"/>
<line x1="298.9" y1="777.4" x2="302.7" y2="777.4" stroke="#000" stroke-width="1.1"/>
<line x1="300.5" y1="774.23" x2="302.7" y2="774.23" stroke="#000" stroke-width="1.1"/>
<line x1="300.5" y1="771.06" x2="302.7" y2="771.06" stroke="#000" stroke-width="1.1"/>
<line x1="300.5" y1="767.89" x2="302.7" y2="767.89" stroke="#000" stroke-width="1.1"/>
<line x1="300.5" y1="764.72" x2="302.7" y2="764.72" stroke="#000" stroke-width="1.1"/>
<line x1="298.9" y1="761.55" x2="302.7" y2="761.55" stroke="#000" stroke-width="1.1"/>
<line x1="300.5" y1="758.38" x2="302.7" y2="758.38" stroke="#000" stroke-width="1.1"/>
<line x1="300.5" y1="755.21" x2="302.7" y2="755.21" stroke="#000" stroke-width="1.1"/>
<line x1="300.5" y1="752.04" x2="302.7" y2="752.04" stroke="#000" stroke-width="1.1"/>
<line x1="300.5" y1="748.87" x2="302.7" y2="748.87" stroke="#000" stroke-width="1.1"/>
<line x1="298.9" y1="745.7" x2="302.7" y2="745.7" stroke="#000" stroke-width="1.1"/>
<line x1="300.5" y1="742.53" x2="302.7" y2="742.53" stroke="#000" stroke-width="1.1"/>
<line x1="300.5" y1="739.36" x2="302.7" y2="739.36" stroke="#000" stroke-width="1.1"/>
<line x1="300.5" y1="736.19" x2="302.7" y2="736.19" stroke="#000" stroke-width="1.1"/>
<line x1="300.5" y1="733.02" x2="302.7" y2="733.02" stroke="#000" stroke-width="1.1"/>
<line x1="298.9" y1="729.85" x2="302.7" y2="729.85" stroke="#000" stroke-width="1.1"/>
<line x1="300.5" y1="726.68" x2="302.7" y2="726.68" stroke="#000" stroke-width="1.1"/>
<line x1="300.5" y1="723.51" x2="302.7" y2="723.51" stroke="#000" stroke-width="1.1"/>
<line x1="300.5" y1="720.34" x2="302.7" y2="720.34" stroke="#000" stroke-width="1.1"/>
<line x1="300.5" y1="717.17" x2="302.7" y2="717.17" stroke="#000" stroke-width="1.1"/>
<line x1="298.9" y1="714" x2="302.7" y2="714" stroke="#000" stroke-width="1.1"/>
<text x="295.6" y="808" font-size="7.4" font-family="'Liberation Sans', sans-serif" font-weight="normal" text-anchor="middle" transform="rotate(-90 295.6 808)" stroke="#000" stroke-width="0.35">0</text>
<text x="295.6" y="792.15" font-size="7.4" font-family="'Liberation Sans', sans-serif" font-weight="normal" text-anchor="middle" transform="rotate(-90 295.6 792.15)" stroke="#000" stroke-width="0.35">20</text>
<text x="295.6" y="776.3" font-size="7.4" font-family="'Liberation Sans', sans-serif" font-weight="normal" text-anchor="middle" transform="rotate(-90 295.6 776.3)" stroke="#000" stroke-width="0.35">40</text>
<text x="295.6" y="760.45" font-size="7.4" font-family="'Liberation Sans', sans-serif" font-weight="normal" text-anchor="middle" transform="rotate(-90 295.6 760.45)" stroke="#000" stroke-width="0.35">60</text>
<text x="295.6" y="744.6" font-size="7.4" font-family="'Liberation Sans', sans-serif" font-weight="normal" text-anchor="middle" transform="rotate(-90 295.6 744.6)" stroke="#000" stroke-width="0.35">80</text>
<text x="295.6" y="728.75" font-size="7.4" font-family="'Liberation Sans', sans-serif" font-weight="normal" text-anchor="middle" transform="rotate(-90 295.6 728.75)" stroke="#000" stroke-width="0.35">100</text>
<text x="295.6" y="712.9" font-size="7.4" font-family="'Liberation Sans', sans-serif" font-weight="normal" text-anchor="middle" transform="rotate(-90 295.6 712.9)" stroke="#000" stroke-width="0.35">120</text>
<line x1="304.9" y1="809.1" x2="304.9" y2="813.1" stroke="#000" stroke-width="1.1"/>
<line x1="325.93" y1="809.1" x2="325.93" y2="811.3" stroke="#000" stroke-width="1.1"/>
<line x1="338.23" y1="809.1" x2="338.23" y2="811.3" stroke="#000" stroke-width="1.1"/>
<line x1="346.96" y1="809.1" x2="346.96" y2="811.3" stroke="#000" stroke-width="1.1"/>
<line x1="353.73" y1="809.1" x2="353.73" y2="811.3" stroke="#000" stroke-width="1.1"/>
<line x1="359.26" y1="809.1" x2="359.26" y2="811.3" stroke="#000" stroke-width="1.1"/>
<line x1="363.94" y1="809.1" x2="363.94" y2="811.3" stroke="#000" stroke-width="1.1"/>
<line x1="367.99" y1="809.1" x2="367.99" y2="811.3" stroke="#000" stroke-width="1.1"/>
<line x1="371.56" y1="809.1" x2="371.56" y2="811.3" stroke="#000" stroke-width="1.1"/>
<line x1="374.76" y1="809.1" x2="374.76" y2="813.1" stroke="#000" stroke-width="1.1"/>
<line x1="395.42" y1="809.1" x2="395.42" y2="811.3" stroke="#000" stroke-width="1.1"/>
<line x1="407.5" y1="809.1" x2="407.5" y2="811.3" stroke="#000" stroke-width="1.1"/>
<line x1="416.07" y1="809.1" x2="416.07" y2="811.3" stroke="#000" stroke-width="1.1"/>
<line x1="422.72" y1="809.1" x2="422.72" y2="811.3" stroke="#000" stroke-width="1.1"/>
<line x1="428.15" y1="809.1" x2="428.15" y2="811.3" stroke="#000" stroke-width="1.1"/>
<line x1="432.75" y1="809.1" x2="432.75" y2="811.3" stroke="#000" stroke-width="1.1"/>
<line x1="436.73" y1="809.1" x2="436.73" y2="811.3" stroke="#000" stroke-width="1.1"/>
<line x1="440.24" y1="809.1" x2="440.24" y2="811.3" stroke="#000" stroke-width="1.1"/>
<line x1="443.38" y1="809.1" x2="443.38" y2="813.1" stroke="#000" stroke-width="1.1"/>
<line x1="464.09" y1="809.1" x2="464.09" y2="811.3" stroke="#000" stroke-width="1.1"/>
<line x1="476.21" y1="809.1" x2="476.21" y2="811.3" stroke="#000" stroke-width="1.1"/>
<line x1="484.81" y1="809.1" x2="484.81" y2="811.3" stroke="#000" stroke-width="1.1"/>
<line x1="491.48" y1="809.1" x2="491.48" y2="811.3" stroke="#000" stroke-width="1.1"/>
<line x1="496.93" y1="809.1" x2="496.93" y2="811.3" stroke="#000" stroke-width="1.1"/>
<line x1="501.54" y1="809.1" x2="501.54" y2="811.3" stroke="#000" stroke-width="1.1"/>
<line x1="505.53" y1="809.1" x2="505.53" y2="811.3" stroke="#000" stroke-width="1.1"/>
<line x1="509.05" y1="809.1" x2="509.05" y2="811.3" stroke="#000" stroke-width="1.1"/>
<line x1="512.2" y1="809.1" x2="512.2" y2="813.1" stroke="#000" stroke-width="1.1"/>
<text x="305.9" y="821.9" font-size="7.7" font-family="'Liberation Sans', sans-serif" text-anchor="middle" stroke="#000" stroke-width="0.3">10<tspan font-size="7.5" dx="0.2" dy="-4.7">1</tspan></text>
<text x="375.76" y="821.9" font-size="7.7" font-family="'Liberation Sans', sans-serif" text-anchor="middle" stroke="#000" stroke-width="0.3">10<tspan font-size="7.5" dx="0.2" dy="-4.7">2</tspan></text>
<text x="444.38" y="821.9" font-size="7.7" font-family="'Liberation Sans', sans-serif" text-anchor="middle" stroke="#000" stroke-width="0.3">10<tspan font-size="7.5" dx="0.2" dy="-4.7">3</tspan></text>
<text x="513.2" y="821.9" font-size="7.7" font-family="'Liberation Sans', sans-serif" text-anchor="middle" stroke="#000" stroke-width="0.3">10<tspan font-size="7.5" dx="0.2" dy="-4.7">4</tspan></text>
<line x1="415.7" y1="740" x2="512.2" y2="740" stroke="#000" stroke-width="1.4"/>
<line x1="415.7" y1="733" x2="415.7" y2="747" stroke="#000" stroke-width="1.4"/>
<text x="446.4" y="731.1" font-size="15.2" font-family="'Liberation Serif', serif" font-weight="bold" text-anchor="start" textLength="30.1" lengthAdjust="spacingAndGlyphs" stroke="#000" stroke-width="0.3">3.6%</text>
<text x="435.9" y="758.2" font-size="15.2" font-family="'Liberation Serif', serif" font-weight="bold" text-anchor="start" textLength="45.1" lengthAdjust="spacingAndGlyphs" stroke="#000" stroke-width="0.3">Control</text>
<path d="M56,950L56,949.45L56.5,949.7L57,948.84L57.5,949.44L58,948.71L58.5,947.72L59,949.01L59.5,949.48L60,949.7L60.5,946.63L61,948.75L61.5,946.54L62,947.8L62.5,949.2L63,947.72L63.5,948.34L64,947.19L64.5,947.97L65,947.79L65.5,946.27L66,947.36L66.5,946.28L67,947.05L67.5,947.53L68,945.56L68.5,947.01L69,947.39L69.5,943.87L70,944.85L70.5,944.31L71,944.6L71.5,944.82L72,945.75L72.5,944.07L73,945.42L73.5,944.08L74,943L74.5,941.71L75,938.31L75.5,940.8L76,938.75L76.5,937.61L77,941.79L77.5,943.2L78,940.19L78.5,938.44L79,939.36L79.5,937.4L80,936.46L80.5,937.34L81,935.97L81.5,933.85L82,931.55L82.5,929.93L83,932.09L83.5,931.2L84,926.07L84.5,932.63L85,930.74L85.5,925.87L86,926L86.5,923.18L87,923.14L87.5,913.58L88,914.96L88.5,913.56L89,909.96L89.5,904.61L90,905.81L90.5,905.66L91,902.46L91.5,897.88L92,897.6L92.5,888.75L93,889.25L93.5,887.11L94,881.97L94.5,876.96L95,870.35L95.5,876.84L96,870.33L96.5,871.26L97,867.39L97.5,870.46L98,862.26L98.5,866.85L99,859.67L99.5,862.72L100,858.09L100.5,856.51L101,859.46L101.5,854.6L102,859.41L102.5,866.14L103,859.45L103.5,860.5L104,860.86L104.5,860.49L105,861.9L105.5,862.96L106,860.8L106.5,856.41L107,862.67L107.5,862.9L108,869.77L108.5,872.06L109,876.18L109.5,877.21L110,876.06L110.5,879.01L111,871.68L111.5,888.49L112,891.15L112.5,892.87L113,892.19L113.5,898.64L114,897.01L114.5,900.02L115,902.87L115.5,910.75L116,913.12L116.5,912.31L117,913.57L117.5,917.24L118,915.95L118.5,920.56L119,917.47L119.5,920.59L120,924.1L120.5,922.43L121,927.91L121.5,926.55L122,928.25L122.5,931.29L123,929.04L123.5,930.6L124,928.33L124.5,933.1L125,933.51L125.5,933.6L126,931.77L126.5,932.73L127,936.27L127.5,934.67L128,934.23L128.5,937.75L129,936.77L129.5,938.96L130,938.07L130.5,939.08L131,938.84L131.5,937.68L132,935.98L132.5,935.85L133,938.85L133.5,940.41L134,941.35L134.5,938.77L135,939.72L135.5,940.45L136,940.81L136.5,939.36L137,940.21L137.5,941.56L138,940.81L138.5,941.9L139,940.97L139.5,943.12L140,941.14L140.5,938.92L141,940.51L141.5,942.57L142,944.07L142.5,944.9L143,940.42L143.5,942.23L144,940.42L144.5,942.12L145,941.94L145.5,939.52L146,942.09L146.5,944.06L147,941.85L147.5,942.59L148,943.27L148.5,943.39L149,942.33L149.5,939.51L150,944.24L150.5,944.17L151,940.13L151.5,942.23L152,943.89L152.5,940.99L153,941.52L153.5,943.58L154,940.25L154.5,939.98L155,942.82L155.5,943.4L156,942.64L156.5,943.71L157,942.89L157.5,940.62L158,942.68L158.5,943.64L159,943.2L159.5,943.5L160,944.75L160.5,944.89L161,944.05L161.5,943.78L162,942.69L162.5,942.58L163,945.41L163.5,945.03L164,944.29L164.5,943.34L165,944.37L165.5,944.15L166,944.46L166.5,943.53L167,942.71L167.5,943.81L168,943.97L168.5,945.95L169,945.14L169.5,945.8L170,945.53L170.5,942.33L171,944.97L171.5,944.28L172,944.53L172.5,946.56L173,945.53L173.5,944.19L174,945.73L174.5,946.62L175,945.15L175.5,943.9L176,944.76L176.5,943.85L177,943.7L177.5,944.86L178,945.21L178.5,944.21L179,945.63L179.5,946.54L180,945.94L180.5,941.82L181,945.11L181.5,944.27L182,946.5L182.5,944.77L183,945.46L183.5,944.8L184,946.2L184.5,945.06L185,945.51L185.5,945.97L186,946.36L186.5,945.01L187,945.54L187.5,944.38L188,943.6L188.5,945.15L189,945.12L189.5,946.7L190,946.78L190.5,945.01L191,946.3L191.5,944.94L192,946.53L192.5,945.95L193,945.36L193.5,944.9L194,945.57L194.5,945.19L195,946.46L195.5,945.38L196,946.31L196.5,945.76L197,947.07L197.5,946.32L198,947.02L198.5,943.56L199,944.4L199.5,946.53L200,946.36L200.5,945.72L201,945.12L201.5,945.06L202,946.82L202.5,947.6L203,947.21L203.5,947.62L204,946.26L204.5,947.62L205,947.66L205.5,947.01L206,947.71L206.5,946.42L207,946.65L207.5,947.53L208,947.33L208.5,947.89L209,947.32L209.5,946.6L210,947.24L210.5,945.04L211,947.73L211.5,949.19L212,948.52L212.5,947.23L213,945.94L213.5,943.73L214,946.93L214.5,946.48L215,948.51L215.5,948.43L216,949.7L216.5,947.64L217,947.73L217.5,946.39L218,948.35L218.5,944.44L219,948.09L219.5,948.18L220,948.58L220.5,949.7L221,948.77L221.5,947.08L222,948L222.5,948.63L223,948.83L223.5,948.27L224,948.63L224.5,948.48L225,949.57L225.5,949.35L226,948.42L226.5,948.13L227,949.48L227.5,948.93L228,949.49L228.5,948.99L229,947.83L229.5,949.7L230,948.94L230.5,949.7L231,948.48L231.5,947.22L232,949.7L232.5,949.38L233,949.2L233.5,948.68L234,949.7L234.5,949.64L235,948.69L235.5,949.7L236,949.7L236.5,948.32L237,949.7L237.5,949.7L238,949.27L238.5,949.55L239,949.7L239.5,948.74L240,949.02L240.5,947.91L241,949.37L241.5,946.86L242,949.7L242.5,949.06L243,949.51L243.5,947.56L244,949.4L244.5,949.51L245,948.31L245.5,948.94L246,949.16L246.5,949.49L247,946.97L247.5,949.6L248,949.7L248.5,948.73L249,948.11L249.5,949.53L250,946.71L250.5,949.31L251,949.7L251.5,949.01L252,949.62L252.5,948.58L253,949.41L253.5,949.7L254,948.77L254.5,949.07L255,949.53L255.5,948.07L256,949.7L256.5,949.7L257,948.52L257.5,949.7L258,949.62L258.5,949.22L259,949.69L259.5,948.98L260,949.7L260.5,947.84L261,949.07L261.5,949.6L262,948.93L262,950 Z" fill="#000"/>
<path d="M53.1,950 L53.1,854 L262.8,854 L262.8,950" fill="none" stroke="#000" stroke-width="1.4"/>
<line x1="49.7" y1="950" x2="263.5" y2="950" stroke="#000" stroke-width="1.6"/>
<line x1="49.3" y1="950" x2="53.1" y2="950" stroke="#000" stroke-width="1.1"/>
<line x1="50.9" y1="946.8" x2="53.1" y2="946.8" stroke="#000" stroke-width="1.1"/>
<line x1="50.9" y1="943.6" x2="53.1" y2="943.6" stroke="#000" stroke-width="1.1"/>
<line x1="50.9" y1="940.4" x2="53.1" y2="940.4" stroke="#000" stroke-width="1.1"/>
<line x1="50.9" y1="937.2" x2="53.1" y2="937.2" stroke="#000" stroke-width="1.1"/>
<line x1="49.3" y1="934" x2="53.1" y2="934" stroke="#000" stroke-width="1.1"/>
<line x1="50.9" y1="930.8" x2="53.1" y2="930.8" stroke="#000" stroke-width="1.1"/>
<line x1="50.9" y1="927.6" x2="53.1" y2="927.6" stroke="#000" stroke-width="1.1"/>
<line x1="50.9" y1="924.4" x2="53.1" y2="924.4" stroke="#000" stroke-width="1.1"/>
<line x1="50.9" y1="921.2" x2="53.1" y2="921.2" stroke="#000" stroke-width="1.1"/>
<line x1="49.3" y1="918" x2="53.1" y2="918" stroke="#000" stroke-width="1.1"/>
<line x1="50.9" y1="914.8" x2="53.1" y2="914.8" stroke="#000" stroke-width="1.1"/>
<line x1="50.9" y1="911.6" x2="53.1" y2="911.6" stroke="#000" stroke-width="1.1"/>
<line x1="50.9" y1="908.4" x2="53.1" y2="908.4" stroke="#000" stroke-width="1.1"/>
<line x1="50.9" y1="905.2" x2="53.1" y2="905.2" stroke="#000" stroke-width="1.1"/>
<line x1="49.3" y1="902" x2="53.1" y2="902" stroke="#000" stroke-width="1.1"/>
<line x1="50.9" y1="898.8" x2="53.1" y2="898.8" stroke="#000" stroke-width="1.1"/>
<line x1="50.9" y1="895.6" x2="53.1" y2="895.6" stroke="#000" stroke-width="1.1"/>
<line x1="50.9" y1="892.4" x2="53.1" y2="892.4" stroke="#000" stroke-width="1.1"/>
<line x1="50.9" y1="889.2" x2="53.1" y2="889.2" stroke="#000" stroke-width="1.1"/>
<line x1="49.3" y1="886" x2="53.1" y2="886" stroke="#000" stroke-width="1.1"/>
<line x1="50.9" y1="882.8" x2="53.1" y2="882.8" stroke="#000" stroke-width="1.1"/>
<line x1="50.9" y1="879.6" x2="53.1" y2="879.6" stroke="#000" stroke-width="1.1"/>
<line x1="50.9" y1="876.4" x2="53.1" y2="876.4" stroke="#000" stroke-width="1.1"/>
<line x1="50.9" y1="873.2" x2="53.1" y2="873.2" stroke="#000" stroke-width="1.1"/>
<line x1="49.3" y1="870" x2="53.1" y2="870" stroke="#000" stroke-width="1.1"/>
<line x1="50.9" y1="866.8" x2="53.1" y2="866.8" stroke="#000" stroke-width="1.1"/>
<line x1="50.9" y1="863.6" x2="53.1" y2="863.6" stroke="#000" stroke-width="1.1"/>
<line x1="50.9" y1="860.4" x2="53.1" y2="860.4" stroke="#000" stroke-width="1.1"/>
<line x1="50.9" y1="857.2" x2="53.1" y2="857.2" stroke="#000" stroke-width="1.1"/>
<line x1="49.3" y1="854" x2="53.1" y2="854" stroke="#000" stroke-width="1.1"/>
<text x="46" y="948.9" font-size="7.4" font-family="'Liberation Sans', sans-serif" font-weight="normal" text-anchor="middle" transform="rotate(-90 46 948.9)" stroke="#000" stroke-width="0.35">0</text>
<text x="46" y="932.9" font-size="7.4" font-family="'Liberation Sans', sans-serif" font-weight="normal" text-anchor="middle" transform="rotate(-90 46 932.9)" stroke="#000" stroke-width="0.35">20</text>
<text x="46" y="916.9" font-size="7.4" font-family="'Liberation Sans', sans-serif" font-weight="normal" text-anchor="middle" transform="rotate(-90 46 916.9)" stroke="#000" stroke-width="0.35">40</text>
<text x="46" y="900.9" font-size="7.4" font-family="'Liberation Sans', sans-serif" font-weight="normal" text-anchor="middle" transform="rotate(-90 46 900.9)" stroke="#000" stroke-width="0.35">60</text>
<text x="46" y="884.9" font-size="7.4" font-family="'Liberation Sans', sans-serif" font-weight="normal" text-anchor="middle" transform="rotate(-90 46 884.9)" stroke="#000" stroke-width="0.35">80</text>
<text x="46" y="868.9" font-size="7.4" font-family="'Liberation Sans', sans-serif" font-weight="normal" text-anchor="middle" transform="rotate(-90 46 868.9)" stroke="#000" stroke-width="0.35">100</text>
<text x="46" y="852.9" font-size="7.4" font-family="'Liberation Sans', sans-serif" font-weight="normal" text-anchor="middle" transform="rotate(-90 46 852.9)" stroke="#000" stroke-width="0.35">120</text>
<line x1="55.3" y1="950" x2="55.3" y2="954" stroke="#000" stroke-width="1.1"/>
<line x1="76.35" y1="950" x2="76.35" y2="952.2" stroke="#000" stroke-width="1.1"/>
<line x1="88.66" y1="950" x2="88.66" y2="952.2" stroke="#000" stroke-width="1.1"/>
<line x1="97.4" y1="950" x2="97.4" y2="952.2" stroke="#000" stroke-width="1.1"/>
<line x1="104.18" y1="950" x2="104.18" y2="952.2" stroke="#000" stroke-width="1.1"/>
<line x1="109.71" y1="950" x2="109.71" y2="952.2" stroke="#000" stroke-width="1.1"/>
<line x1="114.4" y1="950" x2="114.4" y2="952.2" stroke="#000" stroke-width="1.1"/>
<line x1="118.45" y1="950" x2="118.45" y2="952.2" stroke="#000" stroke-width="1.1"/>
<line x1="122.03" y1="950" x2="122.03" y2="952.2" stroke="#000" stroke-width="1.1"/>
<line x1="125.23" y1="950" x2="125.23" y2="954" stroke="#000" stroke-width="1.1"/>
<line x1="145.9" y1="950" x2="145.9" y2="952.2" stroke="#000" stroke-width="1.1"/>
<line x1="158" y1="950" x2="158" y2="952.2" stroke="#000" stroke-width="1.1"/>
<line x1="166.58" y1="950" x2="166.58" y2="952.2" stroke="#000" stroke-width="1.1"/>
<line x1="173.23" y1="950" x2="173.23" y2="952.2" stroke="#000" stroke-width="1.1"/>
<line x1="178.67" y1="950" x2="178.67" y2="952.2" stroke="#000" stroke-width="1.1"/>
<line x1="183.27" y1="950" x2="183.27" y2="952.2" stroke="#000" stroke-width="1.1"/>
<line x1="187.25" y1="950" x2="187.25" y2="952.2" stroke="#000" stroke-width="1.1"/>
<line x1="190.77" y1="950" x2="190.77" y2="952.2" stroke="#000" stroke-width="1.1"/>
<line x1="193.91" y1="950" x2="193.91" y2="954" stroke="#000" stroke-width="1.1"/>
<line x1="214.65" y1="950" x2="214.65" y2="952.2" stroke="#000" stroke-width="1.1"/>
<line x1="226.78" y1="950" x2="226.78" y2="952.2" stroke="#000" stroke-width="1.1"/>
<line x1="235.39" y1="950" x2="235.39" y2="952.2" stroke="#000" stroke-width="1.1"/>
<line x1="242.06" y1="950" x2="242.06" y2="952.2" stroke="#000" stroke-width="1.1"/>
<line x1="247.52" y1="950" x2="247.52" y2="952.2" stroke="#000" stroke-width="1.1"/>
<line x1="252.13" y1="950" x2="252.13" y2="952.2" stroke="#000" stroke-width="1.1"/>
<line x1="256.12" y1="950" x2="256.12" y2="952.2" stroke="#000" stroke-width="1.1"/>
<line x1="259.65" y1="950" x2="259.65" y2="952.2" stroke="#000" stroke-width="1.1"/>
<line x1="262.8" y1="950" x2="262.8" y2="954" stroke="#000" stroke-width="1.1"/>
<text x="56.3" y="962.8" font-size="7.7" font-family="'Liberation Sans', sans-serif" text-anchor="middle" stroke="#000" stroke-width="0.3">10<tspan font-size="7.5" dx="0.2" dy="-4.7">1</tspan></text>
<text x="126.23" y="962.8" font-size="7.7" font-family="'Liberation Sans', sans-serif" text-anchor="middle" stroke="#000" stroke-width="0.3">10<tspan font-size="7.5" dx="0.2" dy="-4.7">2</tspan></text>
<text x="194.91" y="962.8" font-size="7.7" font-family="'Liberation Sans', sans-serif" text-anchor="middle" stroke="#000" stroke-width="0.3">10<tspan font-size="7.5" dx="0.2" dy="-4.7">3</tspan></text>
<text x="263.8" y="962.8" font-size="7.7" font-family="'Liberation Sans', sans-serif" text-anchor="middle" stroke="#000" stroke-width="0.3">10<tspan font-size="7.5" dx="0.2" dy="-4.7">4</tspan></text>
<line x1="146.3" y1="882" x2="262.6" y2="882" stroke="#000" stroke-width="1.4"/>
<line x1="146.3" y1="875" x2="146.3" y2="889" stroke="#000" stroke-width="1.4"/>
<line x1="262.3" y1="875" x2="262.3" y2="889" stroke="#000" stroke-width="1.5"/>
<text x="190.2" y="873.9" font-size="15.2" font-family="'Liberation Serif', serif" font-weight="bold" text-anchor="start" textLength="30.1" lengthAdjust="spacingAndGlyphs" stroke="#000" stroke-width="0.3">5.5%</text>
<text x="184.6" y="901" font-size="15.2" font-family="'Liberation Serif', serif" font-weight="bold" text-anchor="start" textLength="31.9" lengthAdjust="spacingAndGlyphs" stroke="#000" stroke-width="0.3">zVAD</text>
<path d="M306.3,949L306.3,948.41L306.8,947.42L307.3,948.64L307.8,948.69L308.3,947.3L308.8,947.21L309.3,948.53L309.8,948.7L310.3,948.54L310.8,947.8L311.3,947.93L311.8,945.12L312.3,947.26L312.8,946.81L313.3,948.7L313.8,947.65L314.3,948.66L314.8,947.57L315.3,947.16L315.8,947.74L316.3,948.16L316.8,946.42L317.3,948.18L317.8,947.08L318.3,947.49L318.8,947.94L319.3,948.43L319.8,947.68L320.3,948.32L320.8,945.12L321.3,947.88L321.8,947.82L322.3,946.28L322.8,947.34L323.3,947.53L323.8,948.62L324.3,946.32L324.8,948.7L325.3,946.19L325.8,948.13L326.3,947.33L326.8,944.83L327.3,948.65L327.8,947.67L328.3,947.46L328.8,944.9L329.3,947L329.8,947.18L330.3,946.16L330.8,946.52L331.3,944.3L331.8,946.81L332.3,947.87L332.8,947.07L333.3,947.77L333.8,947.26L334.3,945.74L334.8,946.96L335.3,947.47L335.8,946.57L336.3,947.79L336.8,946.5L337.3,947.66L337.8,946.21L338.3,946.27L338.8,946.57L339.3,948L339.8,945.59L340.3,946.6L340.8,945.21L341.3,945.34L341.8,944.96L342.3,946.19L342.8,945.9L343.3,945.75L343.8,942.94L344.3,944.16L344.8,946.66L345.3,945.67L345.8,943.24L346.3,945.04L346.8,946.46L347.3,946.48L347.8,943.61L348.3,944.27L348.8,943.95L349.3,946.42L349.8,944.78L350.3,943.88L350.8,943.94L351.3,944.64L351.8,944.46L352.3,945.19L352.8,941.1L353.3,942L353.8,941.39L354.3,941.9L354.8,941.27L355.3,939.94L355.8,936.69L356.3,935.98L356.8,934.71L357.3,932.51L357.8,933.79L358.3,925.4L358.8,925.41L359.3,920.84L359.8,913.26L360.3,908.55L360.8,906.25L361.3,898.53L361.8,894L362.3,886.61L362.8,887.44L363.3,879.73L363.8,873.65L364.3,867.01L364.8,869.29L365.3,866.35L365.8,857.99L366.3,855.52L366.8,854.51L367.3,855.54L367.8,852.6L368.3,852.6L368.8,852.6L369.3,853.72L369.8,852.6L370.3,853.5L370.8,853.31L371.3,854.74L371.8,852.6L372.3,852.6L372.8,857.04L373.3,852.6L373.8,852.6L374.3,852.6L374.8,852.6L375.3,852.6L375.8,854.66L376.3,853.07L376.8,857.14L377.3,863.18L377.8,859.91L378.3,862L378.8,858.39L379.3,867.38L379.8,865.86L380.3,868.01L380.8,872.53L381.3,875.59L381.8,880.63L382.3,879.4L382.8,885.09L383.3,884.7L383.8,890.2L384.3,892.72L384.8,892.82L385.3,899.99L385.8,900.98L386.3,905.57L386.8,909.08L387.3,911.74L387.8,916.1L388.3,915.12L388.8,922.27L389.3,921.3L389.8,923.51L390.3,922.92L390.8,927.63L391.3,926.65L391.8,931.22L392.3,927.88L392.8,931.25L393.3,928.02L393.8,931.99L394.3,929.6L394.8,935.94L395.3,935.25L395.8,937.36L396.3,937.23L396.8,938.73L397.3,939.68L397.8,936.2L398.3,935.21L398.8,936.02L399.3,936.17L399.8,937.52L400.3,938.5L400.8,938.6L401.3,938.73L401.8,942.04L402.3,941.62L402.8,938.49L403.3,939.26L403.8,939.03L404.3,941.42L404.8,940.82L405.3,939.9L405.8,939.63L406.3,941.95L406.8,935.33L407.3,941.27L407.8,943.95L408.3,942.4L408.8,943.49L409.3,941.95L409.8,942.38L410.3,942.41L410.8,940.62L411.3,942.09L411.8,942.43L412.3,942.76L412.8,940.82L413.3,942.98L413.8,937.08L414.3,943.07L414.8,942.87L415.3,944.82L415.8,944.02L416.3,942.76L416.8,943.13L417.3,943.48L417.8,944.06L418.3,942.27L418.8,942.57L419.3,946.02L419.8,943.62L420.3,943.63L420.8,944.78L421.3,944.47L421.8,944.41L422.3,939.63L422.8,944.59L423.3,943.92L423.8,943.93L424.3,945.36L424.8,945.02L425.3,944.18L425.8,943.21L426.3,947.03L426.8,939.43L427.3,946.06L427.8,944.41L428.3,944.7L428.8,944.08L429.3,945.16L429.8,945.14L430.3,942.8L430.8,945.55L431.3,944.86L431.8,945.05L432.3,944.47L432.8,943.33L433.3,947.64L433.8,946.42L434.3,945.81L434.8,945.79L435.3,945.34L435.8,945.5L436.3,946.6L436.8,945.16L437.3,946.07L437.8,943.92L438.3,946.75L438.8,943.82L439.3,944.13L439.8,945.28L440.3,945.93L440.8,945.92L441.3,945.89L441.8,946.02L442.3,947.07L442.8,946.77L443.3,947.06L443.8,948.33L444.3,946.24L444.8,945.47L445.3,946.15L445.8,945.03L446.3,947.48L446.8,945.58L447.3,944.21L447.8,942.51L448.3,946.15L448.8,945.89L449.3,945.36L449.8,947.03L450.3,946.86L450.8,948.25L451.3,945.59L451.8,945.83L452.3,946.25L452.8,947.43L453.3,947.95L453.8,947.26L454.3,947.71L454.8,947.19L455.3,947.7L455.8,947.5L456.3,947.15L456.8,947.14L457.3,946.91L457.8,947.01L458.3,948L458.8,947.42L459.3,945.89L459.8,947.81L460.3,947.58L460.8,947.14L461.3,947.68L461.8,948.57L462.3,947.61L462.8,945.8L463.3,948.12L463.8,946.39L464.3,948.7L464.8,947.91L465.3,947.45L465.8,948.14L466.3,947.89L466.8,948.59L467.3,947.98L467.8,948.67L468.3,948.7L468.8,947.3L469.3,948.1L469.8,945.51L470.3,947.16L470.8,947.4L471.3,948.04L471.8,948.7L472.3,947.35L472.8,948.22L473.3,943.4L473.8,948.14L474.3,948.05L474.8,947.26L475.3,945.68L475.8,947.29L476.3,948.7L476.8,948.7L477.3,947.98L477.8,948.68L478.3,948.4L478.8,948.54L479.3,948.12L479.8,947.04L480.3,947.32L480.8,946.83L481.3,948.7L481.8,948.7L482.3,948.7L482.8,947.37L483.3,948.68L483.8,947.66L484.3,946.76L484.8,948.7L485.3,947.65L485.8,948.41L486.3,948.7L486.8,947.71L487.3,948.31L487.8,948.17L488.3,948.27L488.8,947.5L489.3,948.5L489.8,948.7L490.3,947.43L490.8,947.74L491.3,948.61L491.8,946.64L492.3,947.56L492.8,948.7L493.3,948.7L493.8,947.77L494.3,947.88L494.8,944.53L495.3,948.39L495.8,948.22L496.3,948.45L496.8,948.7L497.3,948.7L497.8,947.95L498.3,947.35L498.8,948.52L499.3,948.4L499.8,947.2L500.3,948.28L500.8,948.32L501.3,948.42L501.8,947.58L502.3,947.83L502.8,946.14L503.3,948.24L503.8,948.6L504.3,948.05L504.8,947.03L505.3,948.15L505.8,947.91L506.3,947.72L506.8,948.7L507.3,947.58L507.8,947.19L508.3,948.19L508.8,948.7L509.3,948.7L509.8,947.87L510.3,947.86L510.8,948.11L511.3,948.7L511.8,948.5L512,949 Z" fill="#000"/>
<path d="M303.7,949 L303.7,852 L513,852 L513,949" fill="none" stroke="#000" stroke-width="1.4"/>
<line x1="300.3" y1="949" x2="513.7" y2="949" stroke="#000" stroke-width="1.6"/>
<line x1="299.9" y1="949" x2="303.7" y2="949" stroke="#000" stroke-width="1.1"/>
<line x1="301.5" y1="945.77" x2="303.7" y2="945.77" stroke="#000" stroke-width="1.1"/>
<line x1="301.5" y1="942.53" x2="303.7" y2="942.53" stroke="#000" stroke-width="1.1"/>
<line x1="301.5" y1="939.3" x2="303.7" y2="939.3" stroke="#000" stroke-width="1.1"/>
<line x1="301.5" y1="936.07" x2="303.7" y2="936.07" stroke="#000" stroke-width="1.1"/>
<line x1="299.9" y1="932.83" x2="303.7" y2="932.83" stroke="#000" stroke-width="1.1"/>
<line x1="301.5" y1="929.6" x2="303.7" y2="929.6" stroke="#000" stroke-width="1.1"/>
<line x1="301.5" y1="926.37" x2="303.7" y2="926.37" stroke="#000" stroke-width="1.1"/>
<line x1="301.5" y1="923.13" x2="303.7" y2="923.13" stroke="#000" stroke-width="1.1"/>
<line x1="301.5" y1="919.9" x2="303.7" y2="919.9" stroke="#000" stroke-width="1.1"/>
<line x1="299.9" y1="916.67" x2="303.7" y2="916.67" stroke="#000" stroke-width="1.1"/>
<line x1="301.5" y1="913.43" x2="303.7" y2="913.43" stroke="#000" stroke-width="1.1"/>
<line x1="301.5" y1="910.2" x2="303.7" y2="910.2" stroke="#000" stroke-width="1.1"/>
<line x1="301.5" y1="906.97" x2="303.7" y2="906.97" stroke="#000" stroke-width="1.1"/>
<line x1="301.5" y1="903.73" x2="303.7" y2="903.73" stroke="#000" stroke-width="1.1"/>
<line x1="299.9" y1="900.5" x2="303.7" y2="900.5" stroke="#000" stroke-width="1.1"/>
<line x1="301.5" y1="897.27" x2="303.7" y2="897.27" stroke="#000" stroke-width="1.1"/>
<line x1="301.5" y1="894.03" x2="303.7" y2="894.03" stroke="#000" stroke-width="1.1"/>
<line x1="301.5" y1="890.8" x2="303.7" y2="890.8" stroke="#000" stroke-width="1.1"/>
<line x1="301.5" y1="887.57" x2="303.7" y2="887.57" stroke="#000" stroke-width="1.1"/>
<line x1="299.9" y1="884.33" x2="303.7" y2="884.33" stroke="#000" stroke-width="1.1"/>
<line x1="301.5" y1="881.1" x2="303.7" y2="881.1" stroke="#000" stroke-width="1.1"/>
<line x1="301.5" y1="877.87" x2="303.7" y2="877.87" stroke="#000" stroke-width="1.1"/>
<line x1="301.5" y1="874.63" x2="303.7" y2="874.63" stroke="#000" stroke-width="1.1"/>
<line x1="301.5" y1="871.4" x2="303.7" y2="871.4" stroke="#000" stroke-width="1.1"/>
<line x1="299.9" y1="868.17" x2="303.7" y2="868.17" stroke="#000" stroke-width="1.1"/>
<line x1="301.5" y1="864.93" x2="303.7" y2="864.93" stroke="#000" stroke-width="1.1"/>
<line x1="301.5" y1="861.7" x2="303.7" y2="861.7" stroke="#000" stroke-width="1.1"/>
<line x1="301.5" y1="858.47" x2="303.7" y2="858.47" stroke="#000" stroke-width="1.1"/>
<line x1="301.5" y1="855.23" x2="303.7" y2="855.23" stroke="#000" stroke-width="1.1"/>
<line x1="299.9" y1="852" x2="303.7" y2="852" stroke="#000" stroke-width="1.1"/>
<text x="296.6" y="947.9" font-size="7.4" font-family="'Liberation Sans', sans-serif" font-weight="normal" text-anchor="middle" transform="rotate(-90 296.6 947.9)" stroke="#000" stroke-width="0.35">0</text>
<text x="296.6" y="931.73" font-size="7.4" font-family="'Liberation Sans', sans-serif" font-weight="normal" text-anchor="middle" transform="rotate(-90 296.6 931.73)" stroke="#000" stroke-width="0.35">20</text>
<text x="296.6" y="915.57" font-size="7.4" font-family="'Liberation Sans', sans-serif" font-weight="normal" text-anchor="middle" transform="rotate(-90 296.6 915.57)" stroke="#000" stroke-width="0.35">40</text>
<text x="296.6" y="899.4" font-size="7.4" font-family="'Liberation Sans', sans-serif" font-weight="normal" text-anchor="middle" transform="rotate(-90 296.6 899.4)" stroke="#000" stroke-width="0.35">60</text>
<text x="296.6" y="883.23" font-size="7.4" font-family="'Liberation Sans', sans-serif" font-weight="normal" text-anchor="middle" transform="rotate(-90 296.6 883.23)" stroke="#000" stroke-width="0.35">80</text>
<text x="296.6" y="867.07" font-size="7.4" font-family="'Liberation Sans', sans-serif" font-weight="normal" text-anchor="middle" transform="rotate(-90 296.6 867.07)" stroke="#000" stroke-width="0.35">100</text>
<text x="296.6" y="850.9" font-size="7.4" font-family="'Liberation Sans', sans-serif" font-weight="normal" text-anchor="middle" transform="rotate(-90 296.6 850.9)" stroke="#000" stroke-width="0.35">120</text>
<line x1="305.9" y1="949" x2="305.9" y2="953" stroke="#000" stroke-width="1.1"/>
<line x1="326.91" y1="949" x2="326.91" y2="951.2" stroke="#000" stroke-width="1.1"/>
<line x1="339.2" y1="949" x2="339.2" y2="951.2" stroke="#000" stroke-width="1.1"/>
<line x1="347.92" y1="949" x2="347.92" y2="951.2" stroke="#000" stroke-width="1.1"/>
<line x1="354.68" y1="949" x2="354.68" y2="951.2" stroke="#000" stroke-width="1.1"/>
<line x1="360.21" y1="949" x2="360.21" y2="951.2" stroke="#000" stroke-width="1.1"/>
<line x1="364.88" y1="949" x2="364.88" y2="951.2" stroke="#000" stroke-width="1.1"/>
<line x1="368.93" y1="949" x2="368.93" y2="951.2" stroke="#000" stroke-width="1.1"/>
<line x1="372.5" y1="949" x2="372.5" y2="951.2" stroke="#000" stroke-width="1.1"/>
<line x1="375.69" y1="949" x2="375.69" y2="953" stroke="#000" stroke-width="1.1"/>
<line x1="396.33" y1="949" x2="396.33" y2="951.2" stroke="#000" stroke-width="1.1"/>
<line x1="408.4" y1="949" x2="408.4" y2="951.2" stroke="#000" stroke-width="1.1"/>
<line x1="416.96" y1="949" x2="416.96" y2="951.2" stroke="#000" stroke-width="1.1"/>
<line x1="423.61" y1="949" x2="423.61" y2="951.2" stroke="#000" stroke-width="1.1"/>
<line x1="429.04" y1="949" x2="429.04" y2="951.2" stroke="#000" stroke-width="1.1"/>
<line x1="433.62" y1="949" x2="433.62" y2="951.2" stroke="#000" stroke-width="1.1"/>
<line x1="437.6" y1="949" x2="437.6" y2="951.2" stroke="#000" stroke-width="1.1"/>
<line x1="441.11" y1="949" x2="441.11" y2="951.2" stroke="#000" stroke-width="1.1"/>
<line x1="444.24" y1="949" x2="444.24" y2="953" stroke="#000" stroke-width="1.1"/>
<line x1="464.94" y1="949" x2="464.94" y2="951.2" stroke="#000" stroke-width="1.1"/>
<line x1="477.05" y1="949" x2="477.05" y2="951.2" stroke="#000" stroke-width="1.1"/>
<line x1="485.64" y1="949" x2="485.64" y2="951.2" stroke="#000" stroke-width="1.1"/>
<line x1="492.3" y1="949" x2="492.3" y2="951.2" stroke="#000" stroke-width="1.1"/>
<line x1="497.75" y1="949" x2="497.75" y2="951.2" stroke="#000" stroke-width="1.1"/>
<line x1="502.35" y1="949" x2="502.35" y2="951.2" stroke="#000" stroke-width="1.1"/>
<line x1="506.34" y1="949" x2="506.34" y2="951.2" stroke="#000" stroke-width="1.1"/>
<line x1="509.85" y1="949" x2="509.85" y2="951.2" stroke="#000" stroke-width="1.1"/>
<line x1="513" y1="949" x2="513" y2="953" stroke="#000" stroke-width="1.1"/>
<text x="306.9" y="961.8" font-size="7.7" font-family="'Liberation Sans', sans-serif" text-anchor="middle" stroke="#000" stroke-width="0.3">10<tspan font-size="7.5" dx="0.2" dy="-4.7">1</tspan></text>
<text x="376.69" y="961.8" font-size="7.7" font-family="'Liberation Sans', sans-serif" text-anchor="middle" stroke="#000" stroke-width="0.3">10<tspan font-size="7.5" dx="0.2" dy="-4.7">2</tspan></text>
<text x="445.24" y="961.8" font-size="7.7" font-family="'Liberation Sans', sans-serif" text-anchor="middle" stroke="#000" stroke-width="0.3">10<tspan font-size="7.5" dx="0.2" dy="-4.7">3</tspan></text>
<text x="514" y="961.8" font-size="7.7" font-family="'Liberation Sans', sans-serif" text-anchor="middle" stroke="#000" stroke-width="0.3">10<tspan font-size="7.5" dx="0.2" dy="-4.7">4</tspan></text>
<line x1="416.6" y1="879.3" x2="513" y2="879.3" stroke="#000" stroke-width="1.4"/>
<line x1="416.6" y1="872.3" x2="416.6" y2="886.3" stroke="#000" stroke-width="1.4"/>
<text x="449.8" y="870.8" font-size="15.2" font-family="'Liberation Serif', serif" font-weight="bold" text-anchor="start" textLength="30.1" lengthAdjust="spacingAndGlyphs" stroke="#000" stroke-width="0.3">4.1%</text>
<text x="447.4" y="898.2" font-size="15.2" font-family="'Liberation Serif', serif" font-weight="bold" text-anchor="start" textLength="33.6" lengthAdjust="spacingAndGlyphs" stroke="#000" stroke-width="0.3">zVAD</text>
<path d="M56.3,1090.3L56.3,1088.94L56.8,1088.82L57.3,1086.36L57.8,1088.06L58.3,1089.67L58.8,1090L59.3,1090L59.8,1089.46L60.3,1089.39L60.8,1089.18L61.3,1089.64L61.8,1086.17L62.3,1089.29L62.8,1089.69L63.3,1090L63.8,1090L64.3,1089L64.8,1089.97L65.3,1088.64L65.8,1087.17L66.3,1088.85L66.8,1088.88L67.3,1089.72L67.8,1088.68L68.3,1088.79L68.8,1087.58L69.3,1088.06L69.8,1087.87L70.3,1086.15L70.8,1087.03L71.3,1087.96L71.8,1088.2L72.3,1087.38L72.8,1087.95L73.3,1086.85L73.8,1086.84L74.3,1086.17L74.8,1086.46L75.3,1084.54L75.8,1086.96L76.3,1084.73L76.8,1087.15L77.3,1084.12L77.8,1085.86L78.3,1080.16L78.8,1085.41L79.3,1083.54L79.8,1084.02L80.3,1081.71L80.8,1083.1L81.3,1082.56L81.8,1083.53L82.3,1083.5L82.8,1082.04L83.3,1079.78L83.8,1080.18L84.3,1082.76L84.8,1080.54L85.3,1077.97L85.8,1079.29L86.3,1078.45L86.8,1078.93L87.3,1079.95L87.8,1077.64L88.3,1078.24L88.8,1077.68L89.3,1075.24L89.8,1077.69L90.3,1074.79L90.8,1073.19L91.3,1074.19L91.8,1075.79L92.3,1073.22L92.8,1076.55L93.3,1075.21L93.8,1073.5L94.3,1070.8L94.8,1073.61L95.3,1072.44L95.8,1075.16L96.3,1072.56L96.8,1075.97L97.3,1077.87L97.8,1074.43L98.3,1075.86L98.8,1077.15L99.3,1074.59L99.8,1072.51L100.3,1073.49L100.8,1073.84L101.3,1076.59L101.8,1075.65L102.3,1074.77L102.8,1077.17L103.3,1076.82L103.8,1076.96L104.3,1078.1L104.8,1077.83L105.3,1078.38L105.8,1077.08L106.3,1079.49L106.8,1078.95L107.3,1079.03L107.8,1078.77L108.3,1079.77L108.8,1080.63L109.3,1079.25L109.8,1079.87L110.3,1080.97L110.8,1079.76L111.3,1080.45L111.8,1081.53L112.3,1084.19L112.8,1081.06L113.3,1081.45L113.8,1078.93L114.3,1079.96L114.8,1079.94L115.3,1081.86L115.8,1083.02L116.3,1084.74L116.8,1082.18L117.3,1083.74L117.8,1082.63L118.3,1083.77L118.8,1082.49L119.3,1083.44L119.8,1083.47L120.3,1078.51L120.8,1081.31L121.3,1081.7L121.8,1080.05L122.3,1082.74L122.8,1081.81L123.3,1080.73L123.8,1080.1L124.3,1080.29L124.8,1080.63L125.3,1081.85L125.8,1079.88L126.3,1082.08L126.8,1082.14L127.3,1079.87L127.8,1080.79L128.3,1079.08L128.8,1079L129.3,1078.77L129.8,1074.73L130.3,1074.15L130.8,1080.28L131.3,1077.86L131.8,1073.96L132.3,1077.55L132.8,1078.92L133.3,1079.8L133.8,1079.71L134.3,1081.25L134.8,1078.98L135.3,1078.51L135.8,1080.5L136.3,1079.38L136.8,1077.98L137.3,1078.3L137.8,1077.82L138.3,1079.35L138.8,1079.35L139.3,1077.61L139.8,1074.83L140.3,1077.41L140.8,1078.98L141.3,1079.29L141.8,1075.41L142.3,1077.41L142.8,1077.37L143.3,1075.2L143.8,1077.46L144.3,1077.73L144.8,1079.44L145.3,1077.43L145.8,1077.71L146.3,1077.74L146.8,1077.01L147.3,1077.26L147.8,1079.18L148.3,1079.15L148.8,1076.84L149.3,1077.58L149.8,1073.46L150.3,1077.05L150.8,1080.07L151.3,1080.24L151.8,1079.13L152.3,1079.18L152.8,1076.95L153.3,1078.97L153.8,1079.31L154.3,1079.58L154.8,1075.57L155.3,1078.2L155.8,1075.72L156.3,1074.59L156.8,1075.23L157.3,1076.69L157.8,1078.93L158.3,1077.9L158.8,1075.24L159.3,1078.03L159.8,1078.49L160.3,1078.52L160.8,1077.55L161.3,1078.42L161.8,1078.83L162.3,1080.76L162.8,1078.8L163.3,1077.18L163.8,1075.87L164.3,1078.74L164.8,1079.02L165.3,1077.66L165.8,1076.64L166.3,1077.84L166.8,1078.64L167.3,1077.34L167.8,1076.87L168.3,1078.96L168.8,1079.38L169.3,1076.66L169.8,1071.62L170.3,1077.71L170.8,1078.64L171.3,1077.65L171.8,1075.71L172.3,1078.04L172.8,1076.16L173.3,1077.23L173.8,1077.91L174.3,1077.48L174.8,1077.41L175.3,1074.46L175.8,1077L176.3,1076.83L176.8,1074.46L177.3,1075.97L177.8,1077.01L178.3,1077.37L178.8,1076.1L179.3,1076.5L179.8,1078.04L180.3,1076.8L180.8,1077.3L181.3,1077.22L181.8,1075.09L182.3,1077.36L182.8,1074.58L183.3,1078.16L183.8,1077.83L184.3,1078.15L184.8,1076.66L185.3,1078.37L185.8,1075.38L186.3,1076.57L186.8,1076.53L187.3,1077.18L187.8,1079.87L188.3,1077.86L188.8,1076.27L189.3,1079.05L189.8,1078.8L190.3,1078.42L190.8,1078.96L191.3,1078.92L191.8,1077.25L192.3,1080.43L192.8,1079.24L193.3,1080.25L193.8,1080.79L194.3,1079.47L194.8,1078.69L195.3,1079.14L195.8,1078.11L196.3,1080.06L196.8,1080.38L197.3,1078.64L197.8,1080.15L198.3,1076.9L198.8,1077.9L199.3,1078.18L199.8,1079.97L200.3,1077.88L200.8,1080.32L201.3,1080.37L201.8,1081.35L202.3,1080.83L202.8,1079.99L203.3,1082.97L203.8,1081.09L204.3,1080.62L204.8,1081.52L205.3,1081.7L205.8,1076.08L206.3,1081.8L206.8,1080.78L207.3,1080.24L207.8,1077.2L208.3,1080.12L208.8,1081.84L209.3,1083.34L209.8,1082.23L210.3,1081.43L210.8,1083.92L211.3,1082.17L211.8,1083.07L212.3,1082.04L212.8,1081.84L213.3,1083.89L213.8,1083.93L214.3,1083.33L214.8,1082.67L215.3,1083.45L215.8,1083.36L216.3,1085.93L216.8,1083.71L217.3,1083.92L217.8,1082.74L218.3,1084.6L218.8,1083.91L219.3,1084.26L219.8,1081.91L220.3,1082.8L220.8,1082.27L221.3,1084.08L221.8,1083.54L222.3,1085.18L222.8,1084.55L223.3,1080.45L223.8,1083.77L224.3,1080.27L224.8,1084.32L225.3,1085.06L225.8,1084.4L226.3,1086.01L226.8,1085.21L227.3,1085.93L227.8,1086.7L228.3,1085.77L228.8,1087.16L229.3,1082.65L229.8,1084.21L230.3,1085.96L230.8,1086.88L231.3,1085.25L231.8,1085.55L232.3,1084.21L232.8,1085.11L233.3,1087.34L233.8,1085.24L234.3,1086.86L234.8,1085.39L235.3,1081.54L235.8,1086.78L236.3,1087.05L236.8,1085.69L237.3,1085.27L237.8,1087.69L238.3,1088.07L238.8,1088.09L239.3,1085.2L239.8,1086.86L240.3,1085.95L240.8,1087.88L241.3,1088.13L241.8,1088.29L242.3,1087.25L242.8,1087.06L243.3,1086.18L243.8,1086.63L244.3,1087.8L244.8,1088.23L245.3,1087.86L245.8,1085.67L246.3,1087.91L246.8,1088.28L247.3,1087.92L247.8,1089.39L248.3,1088.34L248.8,1089.06L249.3,1088.09L249.8,1088.21L250.3,1086.82L250.8,1087.86L251.3,1090L251.8,1089.39L252.3,1088.84L252.8,1087.19L253.3,1087.43L253.8,1088.55L254.3,1088.63L254.8,1089.61L255.3,1087.84L255.8,1089.82L256.3,1088.59L256.8,1088.06L257.3,1089.22L257.8,1088.9L258.3,1088.33L258.8,1088.15L259.3,1087.31L259.8,1090L260.3,1089.27L260.8,1089.25L261,1090.3 Z" fill="#000"/>
<path d="M53.7,1090.3 L53.7,993.5 L262,993.5 L262,1090.3" fill="none" stroke="#000" stroke-width="1.4"/>
<line x1="50.3" y1="1090.3" x2="262.7" y2="1090.3" stroke="#000" stroke-width="1.6"/>
<line x1="49.9" y1="1090.3" x2="53.7" y2="1090.3" stroke="#000" stroke-width="1.1"/>
<line x1="51.5" y1="1087.07" x2="53.7" y2="1087.07" stroke="#000" stroke-width="1.1"/>
<line x1="51.5" y1="1083.85" x2="53.7" y2="1083.85" stroke="#000" stroke-width="1.1"/>
<line x1="51.5" y1="1080.62" x2="53.7" y2="1080.62" stroke="#000" stroke-width="1.1"/>
<line x1="51.5" y1="1077.39" x2="53.7" y2="1077.39" stroke="#000" stroke-width="1.1"/>
<line x1="49.9" y1="1074.17" x2="53.7" y2="1074.17" stroke="#000" stroke-width="1.1"/>
<line x1="51.5" y1="1070.94" x2="53.7" y2="1070.94" stroke="#000" stroke-width="1.1"/>
<line x1="51.5" y1="1067.71" x2="53.7" y2="1067.71" stroke="#000" stroke-width="1.1"/>
<line x1="51.5" y1="1064.49" x2="53.7" y2="1064.49" stroke="#000" stroke-width="1.1"/>
<line x1="51.5" y1="1061.26" x2="53.7" y2="1061.26" stroke="#000" stroke-width="1.1"/>
<line x1="49.9" y1="1058.03" x2="53.7" y2="1058.03" stroke="#000" stroke-width="1.1"/>
<line x1="51.5" y1="1054.81" x2="53.7" y2="1054.81" stroke="#000" stroke-width="1.1"/>
<line x1="51.5" y1="1051.58" x2="53.7" y2="1051.58" stroke="#000" stroke-width="1.1"/>
<line x1="51.5" y1="1048.35" x2="53.7" y2="1048.35" stroke="#000" stroke-width="1.1"/>
<line x1="51.5" y1="1045.13" x2="53.7" y2="1045.13" stroke="#000" stroke-width="1.1"/>
<line x1="49.9" y1="1041.9" x2="53.7" y2="1041.9" stroke="#000" stroke-width="1.1"/>
<line x1="51.5" y1="1038.67" x2="53.7" y2="1038.67" stroke="#000" stroke-width="1.1"/>
<line x1="51.5" y1="1035.45" x2="53.7" y2="1035.45" stroke="#000" stroke-width="1.1"/>
<line x1="51.5" y1="1032.22" x2="53.7" y2="1032.22" stroke="#000" stroke-width="1.1"/>
<line x1="51.5" y1="1028.99" x2="53.7" y2="1028.99" stroke="#000" stroke-width="1.1"/>
<line x1="49.9" y1="1025.77" x2="53.7" y2="1025.77" stroke="#000" stroke-width="1.1"/>
<line x1="51.5" y1="1022.54" x2="53.7" y2="1022.54" stroke="#000" stroke-width="1.1"/>
<line x1="51.5" y1="1019.31" x2="53.7" y2="1019.31" stroke="#000" stroke-width="1.1"/>
<line x1="51.5" y1="1016.09" x2="53.7" y2="1016.09" stroke="#000" stroke-width="1.1"/>
<line x1="51.5" y1="1012.86" x2="53.7" y2="1012.86" stroke="#000" stroke-width="1.1"/>
<line x1="49.9" y1="1009.63" x2="53.7" y2="1009.63" stroke="#000" stroke-width="1.1"/>
<line x1="51.5" y1="1006.41" x2="53.7" y2="1006.41" stroke="#000" stroke-width="1.1"/>
<line x1="51.5" y1="1003.18" x2="53.7" y2="1003.18" stroke="#000" stroke-width="1.1"/>
<line x1="51.5" y1="999.95" x2="53.7" y2="999.95" stroke="#000" stroke-width="1.1"/>
<line x1="51.5" y1="996.73" x2="53.7" y2="996.73" stroke="#000" stroke-width="1.1"/>
<line x1="49.9" y1="993.5" x2="53.7" y2="993.5" stroke="#000" stroke-width="1.1"/>
<text x="46.6" y="1089.2" font-size="7.4" font-family="'Liberation Sans', sans-serif" font-weight="normal" text-anchor="middle" transform="rotate(-90 46.6 1089.2)" stroke="#000" stroke-width="0.35">0</text>
<text x="46.6" y="1073.07" font-size="7.4" font-family="'Liberation Sans', sans-serif" font-weight="normal" text-anchor="middle" transform="rotate(-90 46.6 1073.07)" stroke="#000" stroke-width="0.35">20</text>
<text x="46.6" y="1056.93" font-size="7.4" font-family="'Liberation Sans', sans-serif" font-weight="normal" text-anchor="middle" transform="rotate(-90 46.6 1056.93)" stroke="#000" stroke-width="0.35">40</text>
<text x="46.6" y="1040.8" font-size="7.4" font-family="'Liberation Sans', sans-serif" font-weight="normal" text-anchor="middle" transform="rotate(-90 46.6 1040.8)" stroke="#000" stroke-width="0.35">60</text>
<text x="46.6" y="1024.67" font-size="7.4" font-family="'Liberation Sans', sans-serif" font-weight="normal" text-anchor="middle" transform="rotate(-90 46.6 1024.67)" stroke="#000" stroke-width="0.35">80</text>
<text x="46.6" y="1008.53" font-size="7.4" font-family="'Liberation Sans', sans-serif" font-weight="normal" text-anchor="middle" transform="rotate(-90 46.6 1008.53)" stroke="#000" stroke-width="0.35">100</text>
<text x="46.6" y="992.4" font-size="7.4" font-family="'Liberation Sans', sans-serif" font-weight="normal" text-anchor="middle" transform="rotate(-90 46.6 992.4)" stroke="#000" stroke-width="0.35">120</text>
<line x1="55.9" y1="1090.3" x2="55.9" y2="1094.3" stroke="#000" stroke-width="1.1"/>
<line x1="76.81" y1="1090.3" x2="76.81" y2="1092.5" stroke="#000" stroke-width="1.1"/>
<line x1="89.04" y1="1090.3" x2="89.04" y2="1092.5" stroke="#000" stroke-width="1.1"/>
<line x1="97.72" y1="1090.3" x2="97.72" y2="1092.5" stroke="#000" stroke-width="1.1"/>
<line x1="104.45" y1="1090.3" x2="104.45" y2="1092.5" stroke="#000" stroke-width="1.1"/>
<line x1="109.95" y1="1090.3" x2="109.95" y2="1092.5" stroke="#000" stroke-width="1.1"/>
<line x1="114.6" y1="1090.3" x2="114.6" y2="1092.5" stroke="#000" stroke-width="1.1"/>
<line x1="118.62" y1="1090.3" x2="118.62" y2="1092.5" stroke="#000" stroke-width="1.1"/>
<line x1="122.18" y1="1090.3" x2="122.18" y2="1092.5" stroke="#000" stroke-width="1.1"/>
<line x1="125.36" y1="1090.3" x2="125.36" y2="1094.3" stroke="#000" stroke-width="1.1"/>
<line x1="145.89" y1="1090.3" x2="145.89" y2="1092.5" stroke="#000" stroke-width="1.1"/>
<line x1="157.9" y1="1090.3" x2="157.9" y2="1092.5" stroke="#000" stroke-width="1.1"/>
<line x1="166.43" y1="1090.3" x2="166.43" y2="1092.5" stroke="#000" stroke-width="1.1"/>
<line x1="173.04" y1="1090.3" x2="173.04" y2="1092.5" stroke="#000" stroke-width="1.1"/>
<line x1="178.44" y1="1090.3" x2="178.44" y2="1092.5" stroke="#000" stroke-width="1.1"/>
<line x1="183.01" y1="1090.3" x2="183.01" y2="1092.5" stroke="#000" stroke-width="1.1"/>
<line x1="186.96" y1="1090.3" x2="186.96" y2="1092.5" stroke="#000" stroke-width="1.1"/>
<line x1="190.45" y1="1090.3" x2="190.45" y2="1092.5" stroke="#000" stroke-width="1.1"/>
<line x1="193.57" y1="1090.3" x2="193.57" y2="1094.3" stroke="#000" stroke-width="1.1"/>
<line x1="214.17" y1="1090.3" x2="214.17" y2="1092.5" stroke="#000" stroke-width="1.1"/>
<line x1="226.22" y1="1090.3" x2="226.22" y2="1092.5" stroke="#000" stroke-width="1.1"/>
<line x1="234.77" y1="1090.3" x2="234.77" y2="1092.5" stroke="#000" stroke-width="1.1"/>
<line x1="241.4" y1="1090.3" x2="241.4" y2="1092.5" stroke="#000" stroke-width="1.1"/>
<line x1="246.82" y1="1090.3" x2="246.82" y2="1092.5" stroke="#000" stroke-width="1.1"/>
<line x1="251.4" y1="1090.3" x2="251.4" y2="1092.5" stroke="#000" stroke-width="1.1"/>
<line x1="255.37" y1="1090.3" x2="255.37" y2="1092.5" stroke="#000" stroke-width="1.1"/>
<line x1="258.87" y1="1090.3" x2="258.87" y2="1092.5" stroke="#000" stroke-width="1.1"/>
<line x1="262" y1="1090.3" x2="262" y2="1094.3" stroke="#000" stroke-width="1.1"/>
<text x="56.9" y="1103.1" font-size="7.7" font-family="'Liberation Sans', sans-serif" text-anchor="middle" stroke="#000" stroke-width="0.3">10<tspan font-size="7.5" dx="0.2" dy="-4.7">1</tspan></text>
<text x="126.36" y="1103.1" font-size="7.7" font-family="'Liberation Sans', sans-serif" text-anchor="middle" stroke="#000" stroke-width="0.3">10<tspan font-size="7.5" dx="0.2" dy="-4.7">2</tspan></text>
<text x="194.57" y="1103.1" font-size="7.7" font-family="'Liberation Sans', sans-serif" text-anchor="middle" stroke="#000" stroke-width="0.3">10<tspan font-size="7.5" dx="0.2" dy="-4.7">3</tspan></text>
<text x="263" y="1103.1" font-size="7.7" font-family="'Liberation Sans', sans-serif" text-anchor="middle" stroke="#000" stroke-width="0.3">10<tspan font-size="7.5" dx="0.2" dy="-4.7">4</tspan></text>
<line x1="146.8" y1="1021.8" x2="262" y2="1021.8" stroke="#000" stroke-width="1.4"/>
<line x1="146.8" y1="1014.8" x2="146.8" y2="1028.8" stroke="#000" stroke-width="1.4"/>
<line x1="261.7" y1="1014.8" x2="261.7" y2="1028.8" stroke="#000" stroke-width="1.5"/>
<text x="181.5" y="1012.6" font-size="15.2" font-family="'Liberation Serif', serif" font-weight="bold" text-anchor="start" textLength="37.1" lengthAdjust="spacingAndGlyphs" stroke="#000" stroke-width="0.3">51.7%</text>
<text x="186.4" y="1041.7" font-size="15.2" font-family="'Liberation Serif', serif" font-weight="bold" text-anchor="start" textLength="32.6" lengthAdjust="spacingAndGlyphs" stroke="#000" stroke-width="0.3">Act D</text>
<path d="M304.2,1086.7L304.2,1086.4L304.7,1085.11L305.2,1086.4L305.7,1086.27L306.2,1085.42L306.7,1086.4L307.2,1086.14L307.7,1085.48L308.2,1086.29L308.7,1086.4L309.2,1086.4L309.7,1085.24L310.2,1086.4L310.7,1086.4L311.2,1086.4L311.7,1086.35L312.2,1086.4L312.7,1085.9L313.2,1085.04L313.7,1086.4L314.2,1085.53L314.7,1085.13L315.2,1086.4L315.7,1086.15L316.2,1085.75L316.7,1085.77L317.2,1086.4L317.7,1085.93L318.2,1086.07L318.7,1085L319.2,1086.03L319.7,1085.79L320.2,1085.46L320.7,1085.42L321.2,1083.52L321.7,1085.17L322.2,1086.25L322.7,1085.95L323.2,1086.4L323.7,1086.4L324.2,1085.47L324.7,1085L325.2,1085.59L325.7,1086.4L326.2,1086.4L326.7,1085.1L327.2,1086.4L327.7,1086.4L328.2,1084.37L328.7,1085.98L329.2,1086.4L329.7,1085.17L330.2,1085.24L330.7,1085.67L331.2,1085.87L331.7,1085.13L332.2,1086.16L332.7,1085.41L333.2,1084.96L333.7,1085.99L334.2,1085.65L334.7,1083.22L335.2,1085.55L335.7,1084.97L336.2,1085.21L336.7,1086.4L337.2,1085.37L337.7,1085.82L338.2,1084.29L338.7,1085.71L339.2,1085.23L339.7,1083.53L340.2,1086.06L340.7,1086.35L341.2,1084.7L341.7,1085.13L342.2,1086.4L342.7,1084.81L343.2,1082.41L343.7,1086.4L344.2,1085.06L344.7,1084.8L345.2,1084.19L345.7,1083.51L346.2,1085.35L346.7,1085.23L347.2,1086.06L347.7,1082.88L348.2,1085.98L348.7,1085.14L349.2,1085.12L349.7,1085.43L350.2,1086.35L350.7,1084.99L351.2,1084.87L351.7,1083.96L352.2,1085.05L352.7,1084.91L353.2,1083.64L353.7,1084.71L354.2,1085.04L354.7,1085.78L355.2,1085.18L355.7,1085.22L356.2,1082.68L356.7,1084.03L357.2,1084.88L357.7,1085.23L358.2,1084.05L358.7,1082.62L359.2,1081.79L359.7,1083.13L360.2,1082.41L360.7,1082.33L361.2,1081.65L361.7,1080.96L362.2,1082.16L362.7,1080.71L363.2,1076.83L363.7,1076.37L364.2,1070.95L364.7,1073.62L365.2,1073.92L365.7,1071.6L366.2,1068.6L366.7,1065.39L367.2,1064.37L367.7,1063.9L368.2,1062.23L368.7,1059.11L369.2,1058.9L369.7,1053.95L370.2,1047.72L370.7,1053.5L371.2,1051.93L371.7,1051.94L372.2,1052.93L372.7,1049.43L373.2,1042.23L373.7,1046.45L374.2,1045.65L374.7,1048.67L375.2,1046.03L375.7,1048.85L376.2,1045.4L376.7,1047.57L377.2,1045.89L377.7,1042.15L378.2,1043.35L378.7,1047.31L379.2,1047.6L379.7,1042.8L380.2,1044.2L380.7,1039.75L381.2,1048.45L381.7,1043.2L382.2,1044.12L382.7,1045.13L383.2,1043.95L383.7,1038.92L384.2,1041.68L384.7,1043.24L385.2,1047.56L385.7,1042.95L386.2,1041.05L386.7,1043.77L387.2,1048.42L387.7,1045.43L388.2,1037.53L388.7,1045.98L389.2,1046.7L389.7,1043.75L390.2,1039.17L390.7,1048.83L391.2,1047.03L391.7,1048.47L392.2,1048.62L392.7,1049.44L393.2,1044.32L393.7,1047.44L394.2,1047.77L394.7,1048.96L395.2,1045.09L395.7,1049.64L396.2,1046.51L396.7,1050.08L397.2,1054.28L397.7,1052.31L398.2,1053.06L398.7,1055.24L399.2,1055.25L399.7,1056.82L400.2,1058.52L400.7,1058.72L401.2,1065.21L401.7,1062.38L402.2,1063.65L402.7,1064.3L403.2,1067.91L403.7,1066.09L404.2,1065.57L404.7,1067.29L405.2,1064.7L405.7,1069.51L406.2,1067.5L406.7,1072.43L407.2,1070.76L407.7,1070.33L408.2,1069.17L408.7,1073.67L409.2,1073.05L409.7,1072.8L410.2,1072.76L410.7,1069.59L411.2,1075.5L411.7,1072.32L412.2,1074.31L412.7,1074.88L413.2,1074.72L413.7,1073.13L414.2,1072.91L414.7,1071.59L415.2,1073.29L415.7,1072.91L416.2,1076.46L416.7,1070.7L417.2,1075.48L417.7,1073.67L418.2,1073.64L418.7,1069.02L419.2,1073.33L419.7,1073.27L420.2,1072.32L420.7,1071.52L421.2,1073.05L421.7,1071.67L422.2,1069.81L422.7,1071.27L423.2,1065.99L423.7,1072.14L424.2,1073.42L424.7,1074.22L425.2,1072.99L425.7,1069.91L426.2,1073.1L426.7,1072.41L427.2,1071.91L427.7,1072.65L428.2,1073.56L428.7,1071.43L429.2,1071.31L429.7,1070.97L430.2,1072.2L430.7,1071.93L431.2,1070.84L431.7,1071.73L432.2,1073.66L432.7,1075.67L433.2,1069.86L433.7,1071.17L434.2,1070.63L434.7,1072.74L435.2,1075.97L435.7,1073.43L436.2,1072.2L436.7,1072.35L437.2,1072.78L437.7,1072.17L438.2,1072.3L438.7,1072.71L439.2,1066L439.7,1074.54L440.2,1073.04L440.7,1072.52L441.2,1072.23L441.7,1073.37L442.2,1075.27L442.7,1074.68L443.2,1073.89L443.7,1076.12L444.2,1075.88L444.7,1073.65L445.2,1074.68L445.7,1077.22L446.2,1072.82L446.7,1073.97L447.2,1075.31L447.7,1077.27L448.2,1076.24L448.7,1077.08L449.2,1075.48L449.7,1076.12L450.2,1076.22L450.7,1075.07L451.2,1076.47L451.7,1076.25L452.2,1073.22L452.7,1074.61L453.2,1077.04L453.7,1079.55L454.2,1072.99L454.7,1075.92L455.2,1078.37L455.7,1076.62L456.2,1076.82L456.7,1075.73L457.2,1076.77L457.7,1073.03L458.2,1076.73L458.7,1078.89L459.2,1078.79L459.7,1078.67L460.2,1079.17L460.7,1080.32L461.2,1078.75L461.7,1079.12L462.2,1081.51L462.7,1078.91L463.2,1080.79L463.7,1082.2L464.2,1080.86L464.7,1080.92L465.2,1082.22L465.7,1081L466.2,1080.75L466.7,1080.92L467.2,1079.81L467.7,1081.81L468.2,1081.26L468.7,1079.25L469.2,1082.77L469.7,1083.28L470.2,1082.92L470.7,1083.08L471.2,1082.87L471.7,1083.62L472.2,1083.91L472.7,1080.2L473.2,1083.29L473.7,1083.37L474.2,1084.84L474.7,1084.03L475.2,1082.83L475.7,1084.29L476.2,1084.28L476.7,1084.87L477.2,1086.07L477.7,1082.35L478.2,1083.77L478.7,1083.53L479.2,1083.86L479.7,1084.72L480.2,1083.65L480.7,1086.21L481.2,1084.57L481.7,1084.99L482.2,1085.84L482.7,1086.32L483.2,1085.2L483.7,1084.83L484.2,1086.07L484.7,1085.9L485.2,1085.49L485.7,1085.37L486.2,1085.7L486.7,1083.65L487.2,1086.4L487.7,1086.4L488.2,1083.57L488.7,1083.2L489.2,1086.4L489.7,1086.25L490.2,1086.16L490.7,1083.2L491.2,1086L491.7,1086.4L492.2,1085.03L492.7,1086.4L493.2,1083.76L493.7,1086.21L494.2,1085.02L494.7,1086.4L495.2,1085.92L495.7,1086.02L496.2,1085.29L496.7,1086.4L497.2,1085.63L497.7,1086.4L498.2,1086.4L498.7,1086.4L499.2,1086.38L499.7,1086.4L500.2,1085.3L500.7,1086.26L501.2,1086.15L501.7,1086.4L502.2,1086.4L502.7,1086.4L503.2,1086.4L503.7,1086.4L504.2,1085.96L504.7,1085.72L505.2,1086.4L505.7,1086.4L506.2,1085.64L506.7,1086.4L507.2,1086.4L507.7,1085.54L508.2,1086.38L508.7,1086.19L509.2,1085.55L509.7,1086.4L510.2,1086.39L510.5,1086.7 Z" fill="#000"/>
<path d="M301.9,1086.7 L301.9,991.3 L511.4,991.3 L511.4,1086.7" fill="none" stroke="#000" stroke-width="1.4"/>
<line x1="298.5" y1="1086.7" x2="512.1" y2="1086.7" stroke="#000" stroke-width="1.6"/>
<line x1="298.1" y1="1086.7" x2="301.9" y2="1086.7" stroke="#000" stroke-width="1.1"/>
<line x1="299.7" y1="1083.52" x2="301.9" y2="1083.52" stroke="#000" stroke-width="1.1"/>
<line x1="299.7" y1="1080.34" x2="301.9" y2="1080.34" stroke="#000" stroke-width="1.1"/>
<line x1="299.7" y1="1077.16" x2="301.9" y2="1077.16" stroke="#000" stroke-width="1.1"/>
<line x1="299.7" y1="1073.98" x2="301.9" y2="1073.98" stroke="#000" stroke-width="1.1"/>
<line x1="298.1" y1="1070.8" x2="301.9" y2="1070.8" stroke="#000" stroke-width="1.1"/>
<line x1="299.7" y1="1067.62" x2="301.9" y2="1067.62" stroke="#000" stroke-width="1.1"/>
<line x1="299.7" y1="1064.44" x2="301.9" y2="1064.44" stroke="#000" stroke-width="1.1"/>
<line x1="299.7" y1="1061.26" x2="301.9" y2="1061.26" stroke="#000" stroke-width="1.1"/>
<line x1="299.7" y1="1058.08" x2="301.9" y2="1058.08" stroke="#000" stroke-width="1.1"/>
<line x1="298.1" y1="1054.9" x2="301.9" y2="1054.9" stroke="#000" stroke-width="1.1"/>
<line x1="299.7" y1="1051.72" x2="301.9" y2="1051.72" stroke="#000" stroke-width="1.1"/>
<line x1="299.7" y1="1048.54" x2="301.9" y2="1048.54" stroke="#000" stroke-width="1.1"/>
<line x1="299.7" y1="1045.36" x2="301.9" y2="1045.36" stroke="#000" stroke-width="1.1"/>
<line x1="299.7" y1="1042.18" x2="301.9" y2="1042.18" stroke="#000" stroke-width="1.1"/>
<line x1="298.1" y1="1039" x2="301.9" y2="1039" stroke="#000" stroke-width="1.1"/>
<line x1="299.7" y1="1035.82" x2="301.9" y2="1035.82" stroke="#000" stroke-width="1.1"/>
<line x1="299.7" y1="1032.64" x2="301.9" y2="1032.64" stroke="#000" stroke-width="1.1"/>
<line x1="299.7" y1="1029.46" x2="301.9" y2="1029.46" stroke="#000" stroke-width="1.1"/>
<line x1="299.7" y1="1026.28" x2="301.9" y2="1026.28" stroke="#000" stroke-width="1.1"/>
<line x1="298.1" y1="1023.1" x2="301.9" y2="1023.1" stroke="#000" stroke-width="1.1"/>
<line x1="299.7" y1="1019.92" x2="301.9" y2="1019.92" stroke="#000" stroke-width="1.1"/>
<line x1="299.7" y1="1016.74" x2="301.9" y2="1016.74" stroke="#000" stroke-width="1.1"/>
<line x1="299.7" y1="1013.56" x2="301.9" y2="1013.56" stroke="#000" stroke-width="1.1"/>
<line x1="299.7" y1="1010.38" x2="301.9" y2="1010.38" stroke="#000" stroke-width="1.1"/>
<line x1="298.1" y1="1007.2" x2="301.9" y2="1007.2" stroke="#000" stroke-width="1.1"/>
<line x1="299.7" y1="1004.02" x2="301.9" y2="1004.02" stroke="#000" stroke-width="1.1"/>
<line x1="299.7" y1="1000.84" x2="301.9" y2="1000.84" stroke="#000" stroke-width="1.1"/>
<line x1="299.7" y1="997.66" x2="301.9" y2="997.66" stroke="#000" stroke-width="1.1"/>
<line x1="299.7" y1="994.48" x2="301.9" y2="994.48" stroke="#000" stroke-width="1.1"/>
<line x1="298.1" y1="991.3" x2="301.9" y2="991.3" stroke="#000" stroke-width="1.1"/>
<text x="294.8" y="1085.6" font-size="7.4" font-family="'Liberation Sans', sans-serif" font-weight="normal" text-anchor="middle" transform="rotate(-90 294.8 1085.6)" stroke="#000" stroke-width="0.35">0</text>
<text x="294.8" y="1069.7" font-size="7.4" font-family="'Liberation Sans', sans-serif" font-weight="normal" text-anchor="middle" transform="rotate(-90 294.8 1069.7)" stroke="#000" stroke-width="0.35">20</text>
<text x="294.8" y="1053.8" font-size="7.4" font-family="'Liberation Sans', sans-serif" font-weight="normal" text-anchor="middle" transform="rotate(-90 294.8 1053.8)" stroke="#000" stroke-width="0.35">40</text>
<text x="294.8" y="1037.9" font-size="7.4" font-family="'Liberation Sans', sans-serif" font-weight="normal" text-anchor="middle" transform="rotate(-90 294.8 1037.9)" stroke="#000" stroke-width="0.35">60</text>
<text x="294.8" y="1022" font-size="7.4" font-family="'Liberation Sans', sans-serif" font-weight="normal" text-anchor="middle" transform="rotate(-90 294.8 1022)" stroke="#000" stroke-width="0.35">80</text>
<text x="294.8" y="1006.1" font-size="7.4" font-family="'Liberation Sans', sans-serif" font-weight="normal" text-anchor="middle" transform="rotate(-90 294.8 1006.1)" stroke="#000" stroke-width="0.35">100</text>
<text x="294.8" y="990.2" font-size="7.4" font-family="'Liberation Sans', sans-serif" font-weight="normal" text-anchor="middle" transform="rotate(-90 294.8 990.2)" stroke="#000" stroke-width="0.35">120</text>
<line x1="304.1" y1="1086.7" x2="304.1" y2="1090.7" stroke="#000" stroke-width="1.1"/>
<line x1="325.13" y1="1086.7" x2="325.13" y2="1088.9" stroke="#000" stroke-width="1.1"/>
<line x1="337.43" y1="1086.7" x2="337.43" y2="1088.9" stroke="#000" stroke-width="1.1"/>
<line x1="346.16" y1="1086.7" x2="346.16" y2="1088.9" stroke="#000" stroke-width="1.1"/>
<line x1="352.93" y1="1086.7" x2="352.93" y2="1088.9" stroke="#000" stroke-width="1.1"/>
<line x1="358.46" y1="1086.7" x2="358.46" y2="1088.9" stroke="#000" stroke-width="1.1"/>
<line x1="363.14" y1="1086.7" x2="363.14" y2="1088.9" stroke="#000" stroke-width="1.1"/>
<line x1="367.19" y1="1086.7" x2="367.19" y2="1088.9" stroke="#000" stroke-width="1.1"/>
<line x1="370.76" y1="1086.7" x2="370.76" y2="1088.9" stroke="#000" stroke-width="1.1"/>
<line x1="373.96" y1="1086.7" x2="373.96" y2="1090.7" stroke="#000" stroke-width="1.1"/>
<line x1="394.62" y1="1086.7" x2="394.62" y2="1088.9" stroke="#000" stroke-width="1.1"/>
<line x1="406.7" y1="1086.7" x2="406.7" y2="1088.9" stroke="#000" stroke-width="1.1"/>
<line x1="415.27" y1="1086.7" x2="415.27" y2="1088.9" stroke="#000" stroke-width="1.1"/>
<line x1="421.92" y1="1086.7" x2="421.92" y2="1088.9" stroke="#000" stroke-width="1.1"/>
<line x1="427.35" y1="1086.7" x2="427.35" y2="1088.9" stroke="#000" stroke-width="1.1"/>
<line x1="431.95" y1="1086.7" x2="431.95" y2="1088.9" stroke="#000" stroke-width="1.1"/>
<line x1="435.93" y1="1086.7" x2="435.93" y2="1088.9" stroke="#000" stroke-width="1.1"/>
<line x1="439.44" y1="1086.7" x2="439.44" y2="1088.9" stroke="#000" stroke-width="1.1"/>
<line x1="442.58" y1="1086.7" x2="442.58" y2="1090.7" stroke="#000" stroke-width="1.1"/>
<line x1="463.29" y1="1086.7" x2="463.29" y2="1088.9" stroke="#000" stroke-width="1.1"/>
<line x1="475.41" y1="1086.7" x2="475.41" y2="1088.9" stroke="#000" stroke-width="1.1"/>
<line x1="484.01" y1="1086.7" x2="484.01" y2="1088.9" stroke="#000" stroke-width="1.1"/>
<line x1="490.68" y1="1086.7" x2="490.68" y2="1088.9" stroke="#000" stroke-width="1.1"/>
<line x1="496.13" y1="1086.7" x2="496.13" y2="1088.9" stroke="#000" stroke-width="1.1"/>
<line x1="500.74" y1="1086.7" x2="500.74" y2="1088.9" stroke="#000" stroke-width="1.1"/>
<line x1="504.73" y1="1086.7" x2="504.73" y2="1088.9" stroke="#000" stroke-width="1.1"/>
<line x1="508.25" y1="1086.7" x2="508.25" y2="1088.9" stroke="#000" stroke-width="1.1"/>
<line x1="511.4" y1="1086.7" x2="511.4" y2="1090.7" stroke="#000" stroke-width="1.1"/>
<text x="305.1" y="1099.5" font-size="7.7" font-family="'Liberation Sans', sans-serif" text-anchor="middle" stroke="#000" stroke-width="0.3">10<tspan font-size="7.5" dx="0.2" dy="-4.7">1</tspan></text>
<text x="374.96" y="1099.5" font-size="7.7" font-family="'Liberation Sans', sans-serif" text-anchor="middle" stroke="#000" stroke-width="0.3">10<tspan font-size="7.5" dx="0.2" dy="-4.7">2</tspan></text>
<text x="443.58" y="1099.5" font-size="7.7" font-family="'Liberation Sans', sans-serif" text-anchor="middle" stroke="#000" stroke-width="0.3">10<tspan font-size="7.5" dx="0.2" dy="-4.7">3</tspan></text>
<text x="512.4" y="1099.5" font-size="7.7" font-family="'Liberation Sans', sans-serif" text-anchor="middle" stroke="#000" stroke-width="0.3">10<tspan font-size="7.5" dx="0.2" dy="-4.7">4</tspan></text>
<line x1="415" y1="1017.8" x2="511.4" y2="1017.8" stroke="#000" stroke-width="1.4"/>
<line x1="415" y1="1010.8" x2="415" y2="1024.8" stroke="#000" stroke-width="1.4"/>
<text x="446.4" y="1010" font-size="15.2" font-family="'Liberation Serif', serif" font-weight="bold" text-anchor="start" textLength="36.5" lengthAdjust="spacingAndGlyphs" stroke="#000" stroke-width="0.3">49.2%</text>
<text x="441.6" y="1035.5" font-size="15.2" font-family="'Liberation Serif', serif" font-weight="bold" text-anchor="start" textLength="40.5" lengthAdjust="spacingAndGlyphs" stroke="#000" stroke-width="0.3">As/IFN</text>
<path d="M56.3,1229.4L56.3,1228.52L56.8,1227.69L57.3,1228.15L57.8,1228.56L58.3,1228.81L58.8,1228.68L59.3,1228.85L59.8,1228.84L60.3,1227.87L60.8,1227.23L61.3,1226.93L61.8,1228.63L62.3,1228.71L62.8,1229.1L63.3,1227.95L63.8,1228.45L64.3,1229.1L64.8,1227.6L65.3,1227.6L65.8,1227.8L66.3,1227.46L66.8,1228.71L67.3,1227.22L67.8,1228.35L68.3,1228.01L68.8,1227.93L69.3,1227.64L69.8,1226.04L70.3,1226.05L70.8,1224.93L71.3,1226.58L71.8,1223.42L72.3,1225.75L72.8,1224.89L73.3,1224.15L73.8,1222.39L74.3,1223.15L74.8,1222.26L75.3,1221.48L75.8,1221.74L76.3,1221.22L76.8,1220.13L77.3,1219.82L77.8,1215.97L78.3,1215.32L78.8,1217.36L79.3,1216.83L79.8,1213.41L80.3,1211.79L80.8,1214.09L81.3,1214.82L81.8,1211.56L82.3,1210.4L82.8,1208.97L83.3,1210.04L83.8,1205.36L84.3,1204.49L84.8,1204.87L85.3,1202.34L85.8,1202.59L86.3,1197.93L86.8,1197.35L87.3,1198.63L87.8,1198.24L88.3,1196.71L88.8,1191.65L89.3,1189.5L89.8,1179.7L90.3,1187.26L90.8,1181.89L91.3,1177.23L91.8,1178.71L92.3,1173.92L92.8,1175.84L93.3,1169.97L93.8,1169.89L94.3,1170.73L94.8,1165.73L95.3,1156.94L95.8,1154.32L96.3,1156.02L96.8,1151.96L97.3,1150.98L97.8,1144.81L98.3,1144.68L98.8,1140.61L99.3,1140.07L99.8,1139.88L100.3,1138.59L100.8,1134.6L101.3,1138.31L101.8,1137.72L102.3,1134.6L102.8,1135.92L103.3,1134.6L103.8,1134.6L104.3,1136.55L104.8,1134.6L105.3,1134.6L105.8,1140.99L106.3,1134.6L106.8,1138.04L107.3,1146.52L107.8,1145.11L108.3,1142.59L108.8,1150.3L109.3,1150.83L109.8,1154.41L110.3,1148.84L110.8,1157.64L111.3,1156.5L111.8,1162.58L112.3,1162.93L112.8,1163.31L113.3,1167.79L113.8,1174.04L114.3,1175.99L114.8,1178.2L115.3,1181.81L115.8,1185.4L116.3,1187.09L116.8,1189.92L117.3,1196.2L117.8,1196.41L118.3,1194.02L118.8,1197.15L119.3,1201.27L119.8,1201.87L120.3,1205.07L120.8,1210.18L121.3,1207.65L121.8,1211.93L122.3,1211.88L122.8,1213.58L123.3,1214.57L123.8,1215.39L124.3,1215.03L124.8,1217.65L125.3,1219.01L125.8,1218.95L126.3,1217.98L126.8,1219.11L127.3,1218.92L127.8,1219.67L128.3,1221.37L128.8,1222.52L129.3,1220.07L129.8,1222.87L130.3,1224.78L130.8,1223.61L131.3,1221.98L131.8,1220.93L132.3,1220.62L132.8,1223.58L133.3,1224.5L133.8,1225.3L134.3,1224.07L134.8,1223.97L135.3,1226.03L135.8,1225.46L136.3,1224.18L136.8,1225.53L137.3,1223.96L137.8,1224.5L138.3,1223.81L138.8,1224.75L139.3,1224.97L139.8,1224.23L140.3,1226.16L140.8,1223.72L141.3,1224.89L141.8,1225L142.3,1225.27L142.8,1225.04L143.3,1224.16L143.8,1225.28L144.3,1224.21L144.8,1225.7L145.3,1225.01L145.8,1224.41L146.3,1223.74L146.8,1225.21L147.3,1223.94L147.8,1226.13L148.3,1223.75L148.8,1225L149.3,1224.51L149.8,1225.57L150.3,1226.42L150.8,1225.25L151.3,1223.31L151.8,1224.52L152.3,1225.92L152.8,1225.37L153.3,1224.94L153.8,1225.11L154.3,1226.08L154.8,1224.09L155.3,1224.99L155.8,1226.04L156.3,1224.94L156.8,1226.23L157.3,1224.7L157.8,1224.03L158.3,1221.63L158.8,1224.36L159.3,1225.14L159.8,1225.96L160.3,1224.49L160.8,1223.81L161.3,1224.64L161.8,1226.13L162.3,1224.58L162.8,1222.9L163.3,1225.82L163.8,1224.1L164.3,1225.08L164.8,1225.13L165.3,1226.04L165.8,1225.87L166.3,1225.37L166.8,1223.01L167.3,1223.75L167.8,1225.38L168.3,1224.63L168.8,1225.39L169.3,1226.93L169.8,1226L170.3,1225.57L170.8,1225L171.3,1224.14L171.8,1223.82L172.3,1225.76L172.8,1225.14L173.3,1226.4L173.8,1225.71L174.3,1224.83L174.8,1225.59L175.3,1223.34L175.8,1222.62L176.3,1225.6L176.8,1224.52L177.3,1225.54L177.8,1225.17L178.3,1225.77L178.8,1225.35L179.3,1225.91L179.8,1225.56L180.3,1225.43L180.8,1226.95L181.3,1227.09L181.8,1225.49L182.3,1226.3L182.8,1224.87L183.3,1224.92L183.8,1225.78L184.3,1225.63L184.8,1226.12L185.3,1225.33L185.8,1225.81L186.3,1226.38L186.8,1226.16L187.3,1224.5L187.8,1223.17L188.3,1225.28L188.8,1224.62L189.3,1225.44L189.8,1224.22L190.3,1225.87L190.8,1225.57L191.3,1223.31L191.8,1225.04L192.3,1226.06L192.8,1226.44L193.3,1225.29L193.8,1225.76L194.3,1225.07L194.8,1225.56L195.3,1226.03L195.8,1226.6L196.3,1226.03L196.8,1225.07L197.3,1224.11L197.8,1220.77L198.3,1224.72L198.8,1225.81L199.3,1225.93L199.8,1226.7L200.3,1227.79L200.8,1223.11L201.3,1226.38L201.8,1224.69L202.3,1224.52L202.8,1227.19L203.3,1226.79L203.8,1226.97L204.3,1227.25L204.8,1226.25L205.3,1225.14L205.8,1225.96L206.3,1226.26L206.8,1227.45L207.3,1225.99L207.8,1227.59L208.3,1226.9L208.8,1226.78L209.3,1226.13L209.8,1226.27L210.3,1227.51L210.8,1225.7L211.3,1225.16L211.8,1226.48L212.3,1228.74L212.8,1227.97L213.3,1227.06L213.8,1226.76L214.3,1227.99L214.8,1227.71L215.3,1227.13L215.8,1227.37L216.3,1228.32L216.8,1227.72L217.3,1229.1L217.8,1227.35L218.3,1227.6L218.8,1227.4L219.3,1227.32L219.8,1227.91L220.3,1227.69L220.8,1227.83L221.3,1226.98L221.8,1225.88L222.3,1228.03L222.8,1229.1L223.3,1224.97L223.8,1225.95L224.3,1226.54L224.8,1226.06L225.3,1227.1L225.8,1226.89L226.3,1227.3L226.8,1227.95L227.3,1224.59L227.8,1227.3L228.3,1227.62L228.8,1225.59L229.3,1228.25L229.8,1227.63L230.3,1227.99L230.8,1227.24L231.3,1227.1L231.8,1227.93L232.3,1227.46L232.8,1228.7L233.3,1228.96L233.8,1227.77L234.3,1227.73L234.8,1227.52L235.3,1229.1L235.8,1227.35L236.3,1226.77L236.8,1227.01L237.3,1226.5L237.8,1227.62L238.3,1226.64L238.8,1224.57L239.3,1227.94L239.8,1226.96L240.3,1228.09L240.8,1229.1L241.3,1227.78L241.8,1228.05L242.3,1227.98L242.8,1227.3L243.3,1227.9L243.8,1227.26L244.3,1226.66L244.8,1228.69L245.3,1228.96L245.8,1225.43L246.3,1226.68L246.8,1228.63L247.3,1227.44L247.8,1228.76L248.3,1228.08L248.8,1222.99L249.3,1226.57L249.8,1228.06L250.3,1228.35L250.8,1228.91L251.3,1229.1L251.8,1227.47L252.3,1229.09L252.8,1225.14L253.3,1227.51L253.8,1227.6L254.3,1228.48L254.8,1228.69L255.3,1227.32L255.8,1225.92L256.3,1228.12L256.8,1228.78L257.3,1228.76L257.8,1228.61L258.3,1227.83L258.8,1228.23L259.3,1227.83L259.8,1228.98L260.3,1228.46L260.8,1227.43L261.3,1229.09L261.8,1229.04L262.3,1228.53L262.8,1228.44L263,1229.4 Z" fill="#000"/>
<path d="M54.2,1229.4 L54.2,1134 L263.8,1134 L263.8,1229.4" fill="none" stroke="#000" stroke-width="1.4"/>
<line x1="50.8" y1="1229.4" x2="264.5" y2="1229.4" stroke="#000" stroke-width="1.6"/>
<line x1="50.4" y1="1229.4" x2="54.2" y2="1229.4" stroke="#000" stroke-width="1.1"/>
<line x1="52" y1="1226.22" x2="54.2" y2="1226.22" stroke="#000" stroke-width="1.1"/>
<line x1="52" y1="1223.04" x2="54.2" y2="1223.04" stroke="#000" stroke-width="1.1"/>
<line x1="52" y1="1219.86" x2="54.2" y2="1219.86" stroke="#000" stroke-width="1.1"/>
<line x1="52" y1="1216.68" x2="54.2" y2="1216.68" stroke="#000" stroke-width="1.1"/>
<line x1="50.4" y1="1213.5" x2="54.2" y2="1213.5" stroke="#000" stroke-width="1.1"/>
<line x1="52" y1="1210.32" x2="54.2" y2="1210.32" stroke="#000" stroke-width="1.1"/>
<line x1="52" y1="1207.14" x2="54.2" y2="1207.14" stroke="#000" stroke-width="1.1"/>
<line x1="52" y1="1203.96" x2="54.2" y2="1203.96" stroke="#000" stroke-width="1.1"/>
<line x1="52" y1="1200.78" x2="54.2" y2="1200.78" stroke="#000" stroke-width="1.1"/>
<line x1="50.4" y1="1197.6" x2="54.2" y2="1197.6" stroke="#000" stroke-width="1.1"/>
<line x1="52" y1="1194.42" x2="54.2" y2="1194.42" stroke="#000" stroke-width="1.1"/>
<line x1="52" y1="1191.24" x2="54.2" y2="1191.24" stroke="#000" stroke-width="1.1"/>
<line x1="52" y1="1188.06" x2="54.2" y2="1188.06" stroke="#000" stroke-width="1.1"/>
<line x1="52" y1="1184.88" x2="54.2" y2="1184.88" stroke="#000" stroke-width="1.1"/>
<line x1="50.4" y1="1181.7" x2="54.2" y2="1181.7" stroke="#000" stroke-width="1.1"/>
<line x1="52" y1="1178.52" x2="54.2" y2="1178.52" stroke="#000" stroke-width="1.1"/>
<line x1="52" y1="1175.34" x2="54.2" y2="1175.34" stroke="#000" stroke-width="1.1"/>
<line x1="52" y1="1172.16" x2="54.2" y2="1172.16" stroke="#000" stroke-width="1.1"/>
<line x1="52" y1="1168.98" x2="54.2" y2="1168.98" stroke="#000" stroke-width="1.1"/>
<line x1="50.4" y1="1165.8" x2="54.2" y2="1165.8" stroke="#000" stroke-width="1.1"/>
<line x1="52" y1="1162.62" x2="54.2" y2="1162.62" stroke="#000" stroke-width="1.1"/>
<line x1="52" y1="1159.44" x2="54.2" y2="1159.44" stroke="#000" stroke-width="1.1"/>
<line x1="52" y1="1156.26" x2="54.2" y2="1156.26" stroke="#000" stroke-width="1.1"/>
<line x1="52" y1="1153.08" x2="54.2" y2="1153.08" stroke="#000" stroke-width="1.1"/>
<line x1="50.4" y1="1149.9" x2="54.2" y2="1149.9" stroke="#000" stroke-width="1.1"/>
<line x1="52" y1="1146.72" x2="54.2" y2="1146.72" stroke="#000" stroke-width="1.1"/>
<line x1="52" y1="1143.54" x2="54.2" y2="1143.54" stroke="#000" stroke-width="1.1"/>
<line x1="52" y1="1140.36" x2="54.2" y2="1140.36" stroke="#000" stroke-width="1.1"/>
<line x1="52" y1="1137.18" x2="54.2" y2="1137.18" stroke="#000" stroke-width="1.1"/>
<line x1="50.4" y1="1134" x2="54.2" y2="1134" stroke="#000" stroke-width="1.1"/>
<text x="47.1" y="1228.3" font-size="7.4" font-family="'Liberation Sans', sans-serif" font-weight="normal" text-anchor="middle" transform="rotate(-90 47.1 1228.3)" stroke="#000" stroke-width="0.35">0</text>
<text x="47.1" y="1212.4" font-size="7.4" font-family="'Liberation Sans', sans-serif" font-weight="normal" text-anchor="middle" transform="rotate(-90 47.1 1212.4)" stroke="#000" stroke-width="0.35">20</text>
<text x="47.1" y="1196.5" font-size="7.4" font-family="'Liberation Sans', sans-serif" font-weight="normal" text-anchor="middle" transform="rotate(-90 47.1 1196.5)" stroke="#000" stroke-width="0.35">40</text>
<text x="47.1" y="1180.6" font-size="7.4" font-family="'Liberation Sans', sans-serif" font-weight="normal" text-anchor="middle" transform="rotate(-90 47.1 1180.6)" stroke="#000" stroke-width="0.35">60</text>
<text x="47.1" y="1164.7" font-size="7.4" font-family="'Liberation Sans', sans-serif" font-weight="normal" text-anchor="middle" transform="rotate(-90 47.1 1164.7)" stroke="#000" stroke-width="0.35">80</text>
<text x="47.1" y="1148.8" font-size="7.4" font-family="'Liberation Sans', sans-serif" font-weight="normal" text-anchor="middle" transform="rotate(-90 47.1 1148.8)" stroke="#000" stroke-width="0.35">100</text>
<text x="47.1" y="1132.9" font-size="7.4" font-family="'Liberation Sans', sans-serif" font-weight="normal" text-anchor="middle" transform="rotate(-90 47.1 1132.9)" stroke="#000" stroke-width="0.35">120</text>
<line x1="56.4" y1="1229.4" x2="56.4" y2="1233.4" stroke="#000" stroke-width="1.1"/>
<line x1="77.44" y1="1229.4" x2="77.44" y2="1231.6" stroke="#000" stroke-width="1.1"/>
<line x1="89.75" y1="1229.4" x2="89.75" y2="1231.6" stroke="#000" stroke-width="1.1"/>
<line x1="98.48" y1="1229.4" x2="98.48" y2="1231.6" stroke="#000" stroke-width="1.1"/>
<line x1="105.25" y1="1229.4" x2="105.25" y2="1231.6" stroke="#000" stroke-width="1.1"/>
<line x1="110.79" y1="1229.4" x2="110.79" y2="1231.6" stroke="#000" stroke-width="1.1"/>
<line x1="115.47" y1="1229.4" x2="115.47" y2="1231.6" stroke="#000" stroke-width="1.1"/>
<line x1="119.52" y1="1229.4" x2="119.52" y2="1231.6" stroke="#000" stroke-width="1.1"/>
<line x1="123.1" y1="1229.4" x2="123.1" y2="1231.6" stroke="#000" stroke-width="1.1"/>
<line x1="126.29" y1="1229.4" x2="126.29" y2="1233.4" stroke="#000" stroke-width="1.1"/>
<line x1="146.96" y1="1229.4" x2="146.96" y2="1231.6" stroke="#000" stroke-width="1.1"/>
<line x1="159.05" y1="1229.4" x2="159.05" y2="1231.6" stroke="#000" stroke-width="1.1"/>
<line x1="167.62" y1="1229.4" x2="167.62" y2="1231.6" stroke="#000" stroke-width="1.1"/>
<line x1="174.28" y1="1229.4" x2="174.28" y2="1231.6" stroke="#000" stroke-width="1.1"/>
<line x1="179.71" y1="1229.4" x2="179.71" y2="1231.6" stroke="#000" stroke-width="1.1"/>
<line x1="184.31" y1="1229.4" x2="184.31" y2="1231.6" stroke="#000" stroke-width="1.1"/>
<line x1="188.29" y1="1229.4" x2="188.29" y2="1231.6" stroke="#000" stroke-width="1.1"/>
<line x1="191.8" y1="1229.4" x2="191.8" y2="1231.6" stroke="#000" stroke-width="1.1"/>
<line x1="194.94" y1="1229.4" x2="194.94" y2="1233.4" stroke="#000" stroke-width="1.1"/>
<line x1="215.67" y1="1229.4" x2="215.67" y2="1231.6" stroke="#000" stroke-width="1.1"/>
<line x1="227.8" y1="1229.4" x2="227.8" y2="1231.6" stroke="#000" stroke-width="1.1"/>
<line x1="236.4" y1="1229.4" x2="236.4" y2="1231.6" stroke="#000" stroke-width="1.1"/>
<line x1="243.07" y1="1229.4" x2="243.07" y2="1231.6" stroke="#000" stroke-width="1.1"/>
<line x1="248.52" y1="1229.4" x2="248.52" y2="1231.6" stroke="#000" stroke-width="1.1"/>
<line x1="253.13" y1="1229.4" x2="253.13" y2="1231.6" stroke="#000" stroke-width="1.1"/>
<line x1="257.13" y1="1229.4" x2="257.13" y2="1231.6" stroke="#000" stroke-width="1.1"/>
<line x1="260.65" y1="1229.4" x2="260.65" y2="1231.6" stroke="#000" stroke-width="1.1"/>
<line x1="263.8" y1="1229.4" x2="263.8" y2="1233.4" stroke="#000" stroke-width="1.1"/>
<text x="57.4" y="1242.2" font-size="7.7" font-family="'Liberation Sans', sans-serif" text-anchor="middle" stroke="#000" stroke-width="0.3">10<tspan font-size="7.5" dx="0.2" dy="-4.7">1</tspan></text>
<text x="127.29" y="1242.2" font-size="7.7" font-family="'Liberation Sans', sans-serif" text-anchor="middle" stroke="#000" stroke-width="0.3">10<tspan font-size="7.5" dx="0.2" dy="-4.7">2</tspan></text>
<text x="195.94" y="1242.2" font-size="7.7" font-family="'Liberation Sans', sans-serif" text-anchor="middle" stroke="#000" stroke-width="0.3">10<tspan font-size="7.5" dx="0.2" dy="-4.7">3</tspan></text>
<text x="264.8" y="1242.2" font-size="7.7" font-family="'Liberation Sans', sans-serif" text-anchor="middle" stroke="#000" stroke-width="0.3">10<tspan font-size="7.5" dx="0.2" dy="-4.7">4</tspan></text>
<line x1="148" y1="1162" x2="263.8" y2="1162" stroke="#000" stroke-width="1.4"/>
<line x1="148" y1="1155" x2="148" y2="1169" stroke="#000" stroke-width="1.4"/>
<line x1="263.5" y1="1155" x2="263.5" y2="1169" stroke="#000" stroke-width="1.5"/>
<text x="192.7" y="1153.4" font-size="15.2" font-family="'Liberation Serif', serif" font-weight="bold" text-anchor="start" textLength="29.6" lengthAdjust="spacingAndGlyphs" stroke="#000" stroke-width="0.3">5.8%</text>
<text x="163.9" y="1180.2" font-size="15.2" font-family="'Liberation Serif', serif" font-weight="bold" text-anchor="start" textLength="80.1" lengthAdjust="spacingAndGlyphs" stroke="#000" stroke-width="0.3">Act D + zVAD</text>
<path d="M305.6,1230.5L305.6,1226.9L306.1,1229.93L306.6,1229.7L307.1,1230.13L307.6,1230.2L308.1,1229.65L308.6,1229.86L309.1,1230.03L309.6,1228.78L310.1,1230.2L310.6,1230.2L311.1,1229.74L311.6,1229.32L312.1,1230.2L312.6,1229.59L313.1,1230.2L313.6,1228.96L314.1,1229.64L314.6,1230.15L315.1,1229.47L315.6,1228.7L316.1,1229.48L316.6,1228.76L317.1,1229.13L317.6,1228.57L318.1,1230.2L318.6,1229.33L319.1,1229.63L319.6,1229.77L320.1,1229.11L320.6,1229.86L321.1,1228.72L321.6,1228.74L322.1,1227.94L322.6,1229.32L323.1,1229.65L323.6,1229.93L324.1,1230.2L324.6,1229.01L325.1,1229.7L325.6,1229.46L326.1,1228.93L326.6,1229.34L327.1,1225.12L327.6,1229.79L328.1,1229.57L328.6,1229.46L329.1,1228.32L329.6,1228.95L330.1,1230.2L330.6,1230.04L331.1,1229.13L331.6,1229.15L332.1,1230.12L332.6,1229.86L333.1,1229.48L333.6,1229.45L334.1,1229.62L334.6,1229.6L335.1,1228.24L335.6,1228.83L336.1,1227.35L336.6,1228.49L337.1,1226.22L337.6,1226.24L338.1,1228.21L338.6,1228.15L339.1,1227.71L339.6,1225.62L340.1,1226.75L340.6,1226.66L341.1,1228.3L341.6,1227.84L342.1,1228.55L342.6,1227.62L343.1,1226.24L343.6,1226.92L344.1,1223.08L344.6,1225.21L345.1,1228.01L345.6,1226.3L346.1,1227.41L346.6,1227.56L347.1,1225.44L347.6,1224.89L348.1,1226.06L348.6,1224.31L349.1,1224.98L349.6,1223.2L350.1,1223.76L350.6,1224.65L351.1,1223L351.6,1222.76L352.1,1223.79L352.6,1223.13L353.1,1221.94L353.6,1222.79L354.1,1221.2L354.6,1220.36L355.1,1222.26L355.6,1220.91L356.1,1217.28L356.6,1217.94L357.1,1220.23L357.6,1220.86L358.1,1220L358.6,1218.3L359.1,1218.02L359.6,1216.46L360.1,1215.4L360.6,1215.48L361.1,1213.49L361.6,1213.72L362.1,1214.47L362.6,1212.12L363.1,1213.45L363.6,1211.4L364.1,1209.33L364.6,1205.09L365.1,1209.69L365.6,1207.47L366.1,1204.24L366.6,1203.57L367.1,1200.44L367.6,1200.97L368.1,1200.21L368.6,1197.48L369.1,1191.97L369.6,1196.53L370.1,1191.76L370.6,1193.79L371.1,1189.75L371.6,1187.04L372.1,1182.28L372.6,1186.95L373.1,1183.27L373.6,1183.01L374.1,1183.43L374.6,1185.05L375.1,1181.65L375.6,1181.35L376.1,1182.53L376.6,1178.85L377.1,1171.63L377.6,1183.94L378.1,1175.08L378.6,1179.89L379.1,1181.6L379.6,1182.62L380.1,1172.32L380.6,1184.55L381.1,1184.9L381.6,1187.12L382.1,1185.75L382.6,1184.83L383.1,1186.37L383.6,1185.67L384.1,1188.49L384.6,1186.47L385.1,1186.8L385.6,1183.71L386.1,1189.77L386.6,1187.63L387.1,1188.51L387.6,1190.22L388.1,1187.09L388.6,1190.83L389.1,1189.46L389.6,1189.13L390.1,1189.11L390.6,1188.12L391.1,1189.33L391.6,1189.04L392.1,1191.71L392.6,1189L393.1,1192.07L393.6,1191.58L394.1,1193.17L394.6,1195.86L395.1,1192.61L395.6,1194.09L396.1,1193.49L396.6,1194.79L397.1,1192.74L397.6,1199.58L398.1,1198.89L398.6,1192.49L399.1,1201.44L399.6,1202.56L400.1,1206.5L400.6,1204.99L401.1,1204.06L401.6,1205.48L402.1,1203.61L402.6,1205.91L403.1,1207.55L403.6,1209.2L404.1,1208.65L404.6,1211.55L405.1,1212.05L405.6,1212.13L406.1,1213.01L406.6,1215.07L407.1,1216.4L407.6,1218.52L408.1,1217.56L408.6,1216.32L409.1,1217.58L409.6,1217.77L410.1,1219.79L410.6,1217.62L411.1,1220.35L411.6,1218.95L412.1,1219.59L412.6,1221.46L413.1,1220.76L413.6,1219.31L414.1,1219.45L414.6,1219.95L415.1,1221.3L415.6,1222.28L416.1,1222.02L416.6,1216.94L417.1,1222.53L417.6,1220.06L418.1,1221.73L418.6,1223.85L419.1,1219.92L419.6,1222.89L420.1,1221.47L420.6,1220.4L421.1,1220.04L421.6,1222.09L422.1,1219.58L422.6,1221.82L423.1,1223.25L423.6,1223.32L424.1,1223.78L424.6,1225.47L425.1,1222.72L425.6,1223.06L426.1,1220.83L426.6,1222.3L427.1,1221.89L427.6,1221.96L428.1,1219.84L428.6,1225.11L429.1,1223.03L429.6,1221.34L430.1,1224.71L430.6,1221.34L431.1,1225.27L431.6,1223.26L432.1,1224.78L432.6,1223.71L433.1,1226.18L433.6,1223.95L434.1,1220.07L434.6,1223.55L435.1,1222.63L435.6,1224.68L436.1,1224.82L436.6,1224.14L437.1,1222.73L437.6,1224.72L438.1,1223.37L438.6,1223.83L439.1,1223.42L439.6,1223.13L440.1,1224.26L440.6,1223.94L441.1,1225.01L441.6,1223.5L442.1,1223.79L442.6,1223.86L443.1,1225.41L443.6,1226.13L444.1,1220.25L444.6,1225.12L445.1,1225.23L445.6,1224.15L446.1,1226.46L446.6,1226.97L447.1,1223.88L447.6,1226.34L448.1,1224.99L448.6,1224.83L449.1,1225.1L449.6,1227.66L450.1,1225.88L450.6,1226.1L451.1,1225.03L451.6,1226.99L452.1,1225.64L452.6,1224.84L453.1,1225.28L453.6,1225.37L454.1,1220.91L454.6,1224.62L455.1,1225.9L455.6,1225.17L456.1,1226.5L456.6,1225.46L457.1,1224.12L457.6,1228.02L458.1,1226.36L458.6,1226.22L459.1,1226.28L459.6,1226.83L460.1,1229.27L460.6,1228L461.1,1222.75L461.6,1225.3L462.1,1228.05L462.6,1226.78L463.1,1228.87L463.6,1226.51L464.1,1224.42L464.6,1225.69L465.1,1226.24L465.6,1227.95L466.1,1228.32L466.6,1226.72L467.1,1229.49L467.6,1228.77L468.1,1228.78L468.6,1228.22L469.1,1226.44L469.6,1228.31L470.1,1227.31L470.6,1228.71L471.1,1226.12L471.6,1228.38L472.1,1230.2L472.6,1228.41L473.1,1226.92L473.6,1227.55L474.1,1228.22L474.6,1227.61L475.1,1229.9L475.6,1228.32L476.1,1228.39L476.6,1228.4L477.1,1227.36L477.6,1227.17L478.1,1228.08L478.6,1229.15L479.1,1228.14L479.6,1229.57L480.1,1229.39L480.6,1228L481.1,1228.34L481.6,1229.3L482.1,1227.6L482.6,1228.8L483.1,1227.19L483.6,1228.01L484.1,1227.92L484.6,1229.48L485.1,1228.07L485.6,1229.67L486.1,1228.3L486.6,1228.87L487.1,1229.31L487.6,1230.2L488.1,1230.04L488.6,1226.19L489.1,1228.07L489.6,1227.5L490.1,1229.51L490.6,1230.2L491.1,1230.2L491.6,1228.78L492.1,1229.34L492.6,1229.43L493.1,1228.53L493.6,1229.83L494.1,1228.69L494.6,1230.2L495.1,1229.36L495.6,1229.55L496.1,1228.87L496.6,1229.81L497.1,1229.09L497.6,1228.36L498.1,1229.96L498.6,1228.89L499.1,1227.79L499.6,1228.26L500.1,1228.8L500.6,1229.23L501.1,1229.53L501.6,1230.09L502.1,1228.97L502.6,1230.16L503.1,1229L503.6,1229.94L504.1,1230.05L504.6,1229.65L505.1,1228.84L505.6,1230.14L506.1,1228.99L506.6,1229.21L507.1,1230.11L507.6,1228.16L508.1,1230.2L508.6,1230.2L509.1,1230L509.6,1229.9L510.1,1229.3L510.6,1229.29L511,1230.5 Z" fill="#000"/>
<path d="M303.1,1230.5 L303.1,1134.8 L512,1134.8 L512,1230.5" fill="none" stroke="#000" stroke-width="1.4"/>
<line x1="299.7" y1="1230.5" x2="512.7" y2="1230.5" stroke="#000" stroke-width="1.6"/>
<line x1="299.3" y1="1230.5" x2="303.1" y2="1230.5" stroke="#000" stroke-width="1.1"/>
<line x1="300.9" y1="1227.31" x2="303.1" y2="1227.31" stroke="#000" stroke-width="1.1"/>
<line x1="300.9" y1="1224.12" x2="303.1" y2="1224.12" stroke="#000" stroke-width="1.1"/>
<line x1="300.9" y1="1220.93" x2="303.1" y2="1220.93" stroke="#000" stroke-width="1.1"/>
<line x1="300.9" y1="1217.74" x2="303.1" y2="1217.74" stroke="#000" stroke-width="1.1"/>
<line x1="299.3" y1="1214.55" x2="303.1" y2="1214.55" stroke="#000" stroke-width="1.1"/>
<line x1="300.9" y1="1211.36" x2="303.1" y2="1211.36" stroke="#000" stroke-width="1.1"/>
<line x1="300.9" y1="1208.17" x2="303.1" y2="1208.17" stroke="#000" stroke-width="1.1"/>
<line x1="300.9" y1="1204.98" x2="303.1" y2="1204.98" stroke="#000" stroke-width="1.1"/>
<line x1="300.9" y1="1201.79" x2="303.1" y2="1201.79" stroke="#000" stroke-width="1.1"/>
<line x1="299.3" y1="1198.6" x2="303.1" y2="1198.6" stroke="#000" stroke-width="1.1"/>
<line x1="300.9" y1="1195.41" x2="303.1" y2="1195.41" stroke="#000" stroke-width="1.1"/>
<line x1="300.9" y1="1192.22" x2="303.1" y2="1192.22" stroke="#000" stroke-width="1.1"/>
<line x1="300.9" y1="1189.03" x2="303.1" y2="1189.03" stroke="#000" stroke-width="1.1"/>
<line x1="300.9" y1="1185.84" x2="303.1" y2="1185.84" stroke="#000" stroke-width="1.1"/>
<line x1="299.3" y1="1182.65" x2="303.1" y2="1182.65" stroke="#000" stroke-width="1.1"/>
<line x1="300.9" y1="1179.46" x2="303.1" y2="1179.46" stroke="#000" stroke-width="1.1"/>
<line x1="300.9" y1="1176.27" x2="303.1" y2="1176.27" stroke="#000" stroke-width="1.1"/>
<line x1="300.9" y1="1173.08" x2="303.1" y2="1173.08" stroke="#000" stroke-width="1.1"/>
<line x1="300.9" y1="1169.89" x2="303.1" y2="1169.89" stroke="#000" stroke-width="1.1"/>
<line x1="299.3" y1="1166.7" x2="303.1" y2="1166.7" stroke="#000" stroke-width="1.1"/>
<line x1="300.9" y1="1163.51" x2="303.1" y2="1163.51" stroke="#000" stroke-width="1.1"/>
<line x1="300.9" y1="1160.32" x2="303.1" y2="1160.32" stroke="#000" stroke-width="1.1"/>
<line x1="300.9" y1="1157.13" x2="303.1" y2="1157.13" stroke="#000" stroke-width="1.1"/>
<line x1="300.9" y1="1153.94" x2="303.1" y2="1153.94" stroke="#000" stroke-width="1.1"/>
<line x1="299.3" y1="1150.75" x2="303.1" y2="1150.75" stroke="#000" stroke-width="1.1"/>
<line x1="300.9" y1="1147.56" x2="303.1" y2="1147.56" stroke="#000" stroke-width="1.1"/>
<line x1="300.9" y1="1144.37" x2="303.1" y2="1144.37" stroke="#000" stroke-width="1.1"/>
<line x1="300.9" y1="1141.18" x2="303.1" y2="1141.18" stroke="#000" stroke-width="1.1"/>
<line x1="300.9" y1="1137.99" x2="303.1" y2="1137.99" stroke="#000" stroke-width="1.1"/>
<line x1="299.3" y1="1134.8" x2="303.1" y2="1134.8" stroke="#000" stroke-width="1.1"/>
<text x="296" y="1229.4" font-size="7.4" font-family="'Liberation Sans', sans-serif" font-weight="normal" text-anchor="middle" transform="rotate(-90 296 1229.4)" stroke="#000" stroke-width="0.35">0</text>
<text x="296" y="1213.45" font-size="7.4" font-family="'Liberation Sans', sans-serif" font-weight="normal" text-anchor="middle" transform="rotate(-90 296 1213.45)" stroke="#000" stroke-width="0.35">20</text>
<text x="296" y="1197.5" font-size="7.4" font-family="'Liberation Sans', sans-serif" font-weight="normal" text-anchor="middle" transform="rotate(-90 296 1197.5)" stroke="#000" stroke-width="0.35">40</text>
<text x="296" y="1181.55" font-size="7.4" font-family="'Liberation Sans', sans-serif" font-weight="normal" text-anchor="middle" transform="rotate(-90 296 1181.55)" stroke="#000" stroke-width="0.35">60</text>
<text x="296" y="1165.6" font-size="7.4" font-family="'Liberation Sans', sans-serif" font-weight="normal" text-anchor="middle" transform="rotate(-90 296 1165.6)" stroke="#000" stroke-width="0.35">80</text>
<text x="296" y="1149.65" font-size="7.4" font-family="'Liberation Sans', sans-serif" font-weight="normal" text-anchor="middle" transform="rotate(-90 296 1149.65)" stroke="#000" stroke-width="0.35">100</text>
<text x="296" y="1133.7" font-size="7.4" font-family="'Liberation Sans', sans-serif" font-weight="normal" text-anchor="middle" transform="rotate(-90 296 1133.7)" stroke="#000" stroke-width="0.35">120</text>
<line x1="305.3" y1="1230.5" x2="305.3" y2="1234.5" stroke="#000" stroke-width="1.1"/>
<line x1="326.27" y1="1230.5" x2="326.27" y2="1232.7" stroke="#000" stroke-width="1.1"/>
<line x1="338.54" y1="1230.5" x2="338.54" y2="1232.7" stroke="#000" stroke-width="1.1"/>
<line x1="347.24" y1="1230.5" x2="347.24" y2="1232.7" stroke="#000" stroke-width="1.1"/>
<line x1="353.99" y1="1230.5" x2="353.99" y2="1232.7" stroke="#000" stroke-width="1.1"/>
<line x1="359.5" y1="1230.5" x2="359.5" y2="1232.7" stroke="#000" stroke-width="1.1"/>
<line x1="364.17" y1="1230.5" x2="364.17" y2="1232.7" stroke="#000" stroke-width="1.1"/>
<line x1="368.21" y1="1230.5" x2="368.21" y2="1232.7" stroke="#000" stroke-width="1.1"/>
<line x1="371.77" y1="1230.5" x2="371.77" y2="1232.7" stroke="#000" stroke-width="1.1"/>
<line x1="374.96" y1="1230.5" x2="374.96" y2="1234.5" stroke="#000" stroke-width="1.1"/>
<line x1="395.55" y1="1230.5" x2="395.55" y2="1232.7" stroke="#000" stroke-width="1.1"/>
<line x1="407.6" y1="1230.5" x2="407.6" y2="1232.7" stroke="#000" stroke-width="1.1"/>
<line x1="416.15" y1="1230.5" x2="416.15" y2="1232.7" stroke="#000" stroke-width="1.1"/>
<line x1="422.78" y1="1230.5" x2="422.78" y2="1232.7" stroke="#000" stroke-width="1.1"/>
<line x1="428.2" y1="1230.5" x2="428.2" y2="1232.7" stroke="#000" stroke-width="1.1"/>
<line x1="432.78" y1="1230.5" x2="432.78" y2="1232.7" stroke="#000" stroke-width="1.1"/>
<line x1="436.75" y1="1230.5" x2="436.75" y2="1232.7" stroke="#000" stroke-width="1.1"/>
<line x1="440.24" y1="1230.5" x2="440.24" y2="1232.7" stroke="#000" stroke-width="1.1"/>
<line x1="443.38" y1="1230.5" x2="443.38" y2="1234.5" stroke="#000" stroke-width="1.1"/>
<line x1="464.03" y1="1230.5" x2="464.03" y2="1232.7" stroke="#000" stroke-width="1.1"/>
<line x1="476.12" y1="1230.5" x2="476.12" y2="1232.7" stroke="#000" stroke-width="1.1"/>
<line x1="484.69" y1="1230.5" x2="484.69" y2="1232.7" stroke="#000" stroke-width="1.1"/>
<line x1="491.34" y1="1230.5" x2="491.34" y2="1232.7" stroke="#000" stroke-width="1.1"/>
<line x1="496.78" y1="1230.5" x2="496.78" y2="1232.7" stroke="#000" stroke-width="1.1"/>
<line x1="501.37" y1="1230.5" x2="501.37" y2="1232.7" stroke="#000" stroke-width="1.1"/>
<line x1="505.35" y1="1230.5" x2="505.35" y2="1232.7" stroke="#000" stroke-width="1.1"/>
<line x1="508.86" y1="1230.5" x2="508.86" y2="1232.7" stroke="#000" stroke-width="1.1"/>
<line x1="512" y1="1230.5" x2="512" y2="1234.5" stroke="#000" stroke-width="1.1"/>
<text x="306.3" y="1243.3" font-size="7.7" font-family="'Liberation Sans', sans-serif" text-anchor="middle" stroke="#000" stroke-width="0.3">10<tspan font-size="7.5" dx="0.2" dy="-4.7">1</tspan></text>
<text x="375.96" y="1243.3" font-size="7.7" font-family="'Liberation Sans', sans-serif" text-anchor="middle" stroke="#000" stroke-width="0.3">10<tspan font-size="7.5" dx="0.2" dy="-4.7">2</tspan></text>
<text x="444.38" y="1243.3" font-size="7.7" font-family="'Liberation Sans', sans-serif" text-anchor="middle" stroke="#000" stroke-width="0.3">10<tspan font-size="7.5" dx="0.2" dy="-4.7">3</tspan></text>
<text x="513" y="1243.3" font-size="7.7" font-family="'Liberation Sans', sans-serif" text-anchor="middle" stroke="#000" stroke-width="0.3">10<tspan font-size="7.5" dx="0.2" dy="-4.7">4</tspan></text>
<line x1="416.2" y1="1160.8" x2="512" y2="1160.8" stroke="#000" stroke-width="1.4"/>
<line x1="416.2" y1="1153.8" x2="416.2" y2="1167.8" stroke="#000" stroke-width="1.4"/>
<text x="446.4" y="1151.8" font-size="15.2" font-family="'Liberation Serif', serif" font-weight="bold" text-anchor="start" textLength="35.8" lengthAdjust="spacingAndGlyphs" stroke="#000" stroke-width="0.3">25.9%</text>
<text x="418.6" y="1176.6" font-size="15.2" font-family="'Liberation Serif', serif" font-weight="bold" text-anchor="start" textLength="88.9" lengthAdjust="spacingAndGlyphs" stroke="#000" stroke-width="0.3">As/IFN + zVAD</text>
</svg></body></html>
